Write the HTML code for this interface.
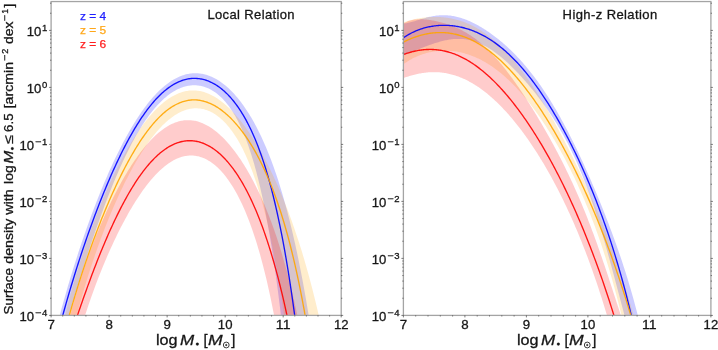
<!DOCTYPE html>
<html><head><meta charset="utf-8"><title>chart</title><style>html,body{margin:0;padding:0;background:#fff}body{width:718px;height:350px;overflow:hidden;font-family:"Liberation Sans",sans-serif}</style></head><body>
<svg width="718" height="350" viewBox="0 0 718 350" style="display:block;font-family:'Liberation Sans',sans-serif;will-change:transform;opacity:0.999">
<rect width="718" height="350" fill="#fff"/>
<defs><clipPath id="cl"><rect x="51.10" y="1.55" width="290.10" height="313.85"/></clipPath><clipPath id="cr"><rect x="403.40" y="1.55" width="307.50" height="313.85"/></clipPath></defs>
<g clip-path="url(#cl)">
<path d="M49.10 357.31 L50.10 353.12 L51.10 348.98 L52.10 344.90 L53.10 340.86 L54.10 336.87 L55.10 332.93 L56.10 329.03 L57.10 325.19 L58.10 321.38 L59.10 317.62 L60.10 313.90 L61.10 310.22 L62.10 306.59 L63.10 302.99 L64.10 299.43 L65.10 295.91 L66.10 292.43 L67.10 288.99 L68.10 285.58 L69.10 282.21 L70.10 278.87 L71.10 275.57 L72.10 272.30 L73.10 269.06 L74.10 265.86 L75.10 262.69 L76.10 259.55 L77.10 256.44 L78.10 253.36 L79.10 250.31 L80.10 247.30 L81.10 244.31 L82.10 241.35 L83.10 238.42 L84.10 235.52 L85.10 232.65 L86.10 229.80 L87.10 226.99 L88.10 224.20 L89.10 221.43 L90.10 218.70 L91.10 215.99 L92.10 213.31 L93.10 210.65 L94.10 208.02 L95.10 205.41 L96.10 202.83 L97.10 200.28 L98.10 197.75 L99.10 195.25 L100.10 192.77 L101.10 190.32 L102.10 187.89 L103.10 185.49 L104.10 183.11 L105.10 180.76 L106.10 178.43 L107.10 176.13 L108.10 173.85 L109.10 171.60 L110.10 169.37 L111.10 167.16 L112.10 164.98 L113.10 162.83 L114.10 160.69 L115.10 158.59 L116.10 156.51 L117.10 154.45 L118.10 152.42 L119.10 150.41 L120.10 148.42 L121.10 146.46 L122.10 144.53 L123.10 142.62 L124.10 140.74 L125.10 138.88 L126.10 137.04 L127.10 135.23 L128.10 133.45 L129.10 131.69 L130.10 129.95 L131.10 128.24 L132.10 126.56 L133.10 124.90 L134.10 123.26 L135.10 121.65 L136.10 120.07 L137.10 118.51 L138.10 116.98 L139.10 115.47 L140.10 113.99 L141.10 112.54 L142.10 111.11 L143.10 109.70 L144.10 108.33 L145.10 106.97 L146.10 105.65 L147.10 104.35 L148.10 103.07 L149.10 101.83 L150.10 100.61 L151.10 99.41 L152.10 98.24 L153.10 97.10 L154.10 95.98 L155.10 94.89 L156.10 93.83 L157.10 92.79 L158.10 91.78 L159.10 90.80 L160.10 89.84 L161.10 88.91 L162.10 88.00 L163.10 87.13 L164.10 86.28 L165.10 85.45 L166.10 84.65 L167.10 83.88 L168.10 83.14 L169.10 82.42 L170.10 81.73 L171.10 81.07 L172.10 80.43 L173.10 79.82 L174.10 79.24 L175.10 78.68 L176.10 78.15 L177.10 77.65 L178.10 77.17 L179.10 76.72 L180.10 76.30 L181.10 75.91 L182.10 75.54 L183.10 75.20 L184.10 74.88 L185.10 74.60 L186.10 74.33 L187.10 74.10 L188.10 73.89 L189.10 73.71 L190.10 73.56 L191.10 73.43 L192.10 73.33 L193.10 73.26 L194.10 73.21 L195.10 73.19 L196.10 73.20 L197.10 73.24 L198.10 73.30 L199.10 73.39 L200.10 73.50 L201.10 73.64 L202.10 73.81 L203.10 74.01 L204.10 74.23 L205.10 74.48 L206.10 74.76 L207.10 75.06 L208.10 75.40 L209.10 75.75 L210.10 76.14 L211.10 76.55 L212.10 77.00 L213.10 77.46 L214.10 77.96 L215.10 78.48 L216.10 79.04 L217.10 79.61 L218.10 80.22 L219.10 80.86 L220.10 81.52 L221.10 82.21 L222.10 82.93 L223.10 83.68 L224.10 84.46 L225.10 85.27 L226.10 86.10 L227.10 86.97 L228.10 87.87 L229.10 88.79 L230.10 89.75 L231.10 90.73 L232.10 91.75 L233.10 92.80 L234.10 93.87 L235.10 94.98 L236.10 96.13 L237.10 97.30 L238.10 98.51 L239.10 99.75 L240.10 101.02 L241.10 102.32 L242.10 103.67 L243.10 105.04 L244.10 106.45 L245.10 107.90 L246.10 109.38 L247.10 110.90 L248.10 112.45 L249.10 114.04 L250.10 115.67 L251.10 117.34 L252.10 119.05 L253.10 120.80 L254.10 122.59 L255.10 124.43 L256.10 126.30 L257.10 128.22 L258.10 130.18 L259.10 132.19 L260.10 134.24 L261.10 136.34 L262.10 138.48 L263.10 140.68 L264.10 142.92 L265.10 145.21 L266.10 147.56 L267.10 149.96 L268.10 152.41 L269.10 154.91 L270.10 157.47 L271.10 160.09 L272.10 162.77 L273.10 165.50 L274.10 168.30 L275.10 171.16 L276.10 174.08 L277.10 177.07 L278.10 180.12 L279.10 183.25 L280.10 186.44 L281.10 189.70 L282.10 193.04 L283.10 196.45 L284.10 199.93 L285.10 203.50 L286.10 207.14 L287.10 210.87 L288.10 214.68 L289.10 218.58 L290.10 222.56 L291.10 226.63 L292.10 230.80 L293.10 235.06 L294.10 239.42 L295.10 243.87 L296.10 248.43 L297.10 253.09 L298.10 257.85 L299.10 262.73 L300.10 267.71 L301.10 272.81 L302.10 278.02 L303.10 283.36 L304.10 288.81 L305.10 294.39 L306.10 300.10 L307.10 305.94 L308.10 311.91 L309.10 318.02 L310.10 324.27 L311.10 330.67 L312.10 337.21 L313.10 343.90 L314.10 350.74 L315.10 357.75 L316.10 364.91 L316.10 395.40 L315.10 395.40 L314.10 395.40 L313.10 395.40 L312.10 395.40 L311.10 395.40 L310.10 395.40 L309.10 395.40 L308.10 395.40 L307.10 395.40 L306.10 395.40 L305.10 395.40 L304.10 395.40 L303.10 395.40 L302.10 395.40 L301.10 395.40 L300.10 395.40 L299.10 395.40 L298.10 395.40 L297.10 395.40 L296.10 395.40 L295.10 395.40 L294.10 395.40 L293.10 395.40 L292.10 395.40 L291.10 395.40 L290.10 395.40 L289.10 395.40 L288.10 395.40 L287.10 395.40 L286.10 363.04 L285.10 353.24 L284.10 343.74 L283.10 334.53 L282.10 325.60 L281.10 316.95 L280.10 308.57 L279.10 300.45 L278.10 292.58 L277.10 284.96 L276.10 277.58 L275.10 270.43 L274.10 263.51 L273.10 256.81 L272.10 250.32 L271.10 244.04 L270.10 237.96 L269.10 232.08 L268.10 226.39 L267.10 220.88 L266.10 215.55 L265.10 210.40 L264.10 205.42 L263.10 200.60 L262.10 195.94 L261.10 191.44 L260.10 187.08 L259.10 182.88 L258.10 178.81 L257.10 174.88 L256.10 171.08 L255.10 167.41 L254.10 163.87 L253.10 160.45 L252.10 157.15 L251.10 153.96 L250.10 150.88 L249.10 147.90 L248.10 145.03 L247.10 142.27 L246.10 139.60 L245.10 137.02 L244.10 134.54 L243.10 132.14 L242.10 129.83 L241.10 127.61 L240.10 125.46 L239.10 123.40 L238.10 121.41 L237.10 119.49 L236.10 117.65 L235.10 115.87 L234.10 114.17 L233.10 112.53 L232.10 110.95 L231.10 109.43 L230.10 107.98 L229.10 106.58 L228.10 105.24 L227.10 103.95 L226.10 102.72 L225.10 101.54 L224.10 100.41 L223.10 99.33 L222.10 98.30 L221.10 97.32 L220.10 96.38 L219.10 95.49 L218.10 94.63 L217.10 93.83 L216.10 93.06 L215.10 92.33 L214.10 91.65 L213.10 91.00 L212.10 90.39 L211.10 89.82 L210.10 89.29 L209.10 88.79 L208.10 88.33 L207.10 87.90 L206.10 87.50 L205.10 87.14 L204.10 86.82 L203.10 86.52 L202.10 86.26 L201.10 86.03 L200.10 85.84 L199.10 85.67 L198.10 85.54 L197.10 85.43 L196.10 85.36 L195.10 85.32 L194.10 85.30 L193.10 85.32 L192.10 85.37 L191.10 85.44 L190.10 85.55 L189.10 85.68 L188.10 85.85 L187.10 86.04 L186.10 86.27 L185.10 86.52 L184.10 86.80 L183.10 87.11 L182.10 87.45 L181.10 87.82 L180.10 88.22 L179.10 88.65 L178.10 89.10 L177.10 89.59 L176.10 90.11 L175.10 90.65 L174.10 91.22 L173.10 91.83 L172.10 92.46 L171.10 93.12 L170.10 93.82 L169.10 94.54 L168.10 95.29 L167.10 96.07 L166.10 96.88 L165.10 97.73 L164.10 98.60 L163.10 99.50 L162.10 100.43 L161.10 101.40 L160.10 102.39 L159.10 103.42 L158.10 104.47 L157.10 105.56 L156.10 106.68 L155.10 107.83 L154.10 109.01 L153.10 110.22 L152.10 111.46 L151.10 112.73 L150.10 114.03 L149.10 115.37 L148.10 116.74 L147.10 118.13 L146.10 119.56 L145.10 121.02 L144.10 122.52 L143.10 124.04 L142.10 125.59 L141.10 127.18 L140.10 128.80 L139.10 130.45 L138.10 132.13 L137.10 133.84 L136.10 135.58 L135.10 137.35 L134.10 139.16 L133.10 140.99 L132.10 142.86 L131.10 144.76 L130.10 146.68 L129.10 148.64 L128.10 150.63 L127.10 152.65 L126.10 154.70 L125.10 156.77 L124.10 158.88 L123.10 161.02 L122.10 163.19 L121.10 165.38 L120.10 167.61 L119.10 169.86 L118.10 172.15 L117.10 174.46 L116.10 176.80 L115.10 179.17 L114.10 181.56 L113.10 183.99 L112.10 186.44 L111.10 188.92 L110.10 191.42 L109.10 193.95 L108.10 196.51 L107.10 199.09 L106.10 201.70 L105.10 204.34 L104.10 207.00 L103.10 209.69 L102.10 212.40 L101.10 215.13 L100.10 217.90 L99.10 220.68 L98.10 223.49 L97.10 226.32 L96.10 229.17 L95.10 232.05 L94.10 234.95 L93.10 237.87 L92.10 240.82 L91.10 243.79 L90.10 246.78 L89.10 249.79 L88.10 252.82 L87.10 255.87 L86.10 258.95 L85.10 262.04 L84.10 265.16 L83.10 268.29 L82.10 271.45 L81.10 274.62 L80.10 277.82 L79.10 281.03 L78.10 284.27 L77.10 287.53 L76.10 290.80 L75.10 294.09 L74.10 297.41 L73.10 300.74 L72.10 304.09 L71.10 307.46 L70.10 310.85 L69.10 314.27 L68.10 317.70 L67.10 321.15 L66.10 324.62 L65.10 328.11 L64.10 331.62 L63.10 335.15 L62.10 338.70 L61.10 342.27 L60.10 345.87 L59.10 349.48 L58.10 353.12 L57.10 356.78 L56.10 360.46 L55.10 364.17 L54.10 395.40 L53.10 395.40 L52.10 395.40 L51.10 395.40 L50.10 395.40 L49.10 395.40 Z" fill="#0000ff" fill-opacity="0.2"/>
<path d="M54.10 362.38 L55.10 357.72 L56.10 353.13 L57.10 348.62 L58.10 344.19 L59.10 339.83 L60.10 335.53 L61.10 331.31 L62.10 327.15 L63.10 323.06 L64.10 319.03 L65.10 315.07 L66.10 311.16 L67.10 307.31 L68.10 303.52 L69.10 299.79 L70.10 296.11 L71.10 292.49 L72.10 288.91 L73.10 285.39 L74.10 281.92 L75.10 278.50 L76.10 275.12 L77.10 271.79 L78.10 268.51 L79.10 265.27 L80.10 262.07 L81.10 258.92 L82.10 255.81 L83.10 252.74 L84.10 249.71 L85.10 246.72 L86.10 243.76 L87.10 240.85 L88.10 237.97 L89.10 235.13 L90.10 232.32 L91.10 229.55 L92.10 226.81 L93.10 224.10 L94.10 221.43 L95.10 218.79 L96.10 216.19 L97.10 213.61 L98.10 211.07 L99.10 208.56 L100.10 206.07 L101.10 203.62 L102.10 201.20 L103.10 198.80 L104.10 196.44 L105.10 194.10 L106.10 191.79 L107.10 189.51 L108.10 187.25 L109.10 185.03 L110.10 182.83 L111.10 180.65 L112.10 178.51 L113.10 176.39 L114.10 174.29 L115.10 172.23 L116.10 170.18 L117.10 168.17 L118.10 166.18 L119.10 164.21 L120.10 162.27 L121.10 160.36 L122.10 158.47 L123.10 156.61 L124.10 154.77 L125.10 152.96 L126.10 151.17 L127.10 149.41 L128.10 147.67 L129.10 145.96 L130.10 144.27 L131.10 142.61 L132.10 140.97 L133.10 139.36 L134.10 137.77 L135.10 136.20 L136.10 134.67 L137.10 133.15 L138.10 131.67 L139.10 130.20 L140.10 128.77 L141.10 127.36 L142.10 125.97 L143.10 124.61 L144.10 123.27 L145.10 121.96 L146.10 120.68 L147.10 119.42 L148.10 118.19 L149.10 116.98 L150.10 115.80 L151.10 114.64 L152.10 113.51 L153.10 112.41 L154.10 111.33 L155.10 110.28 L156.10 109.25 L157.10 108.26 L158.10 107.28 L159.10 106.34 L160.10 105.42 L161.10 104.53 L162.10 103.66 L163.10 102.82 L164.10 102.01 L165.10 101.23 L166.10 100.47 L167.10 99.74 L168.10 99.04 L169.10 98.36 L170.10 97.71 L171.10 97.09 L172.10 96.50 L173.10 95.93 L174.10 95.39 L175.10 94.88 L176.10 94.39 L177.10 93.94 L178.10 93.51 L179.10 93.11 L180.10 92.73 L181.10 92.39 L182.10 92.07 L183.10 91.78 L184.10 91.52 L185.10 91.28 L186.10 91.07 L187.10 90.89 L188.10 90.74 L189.10 90.62 L190.10 90.52 L191.10 90.46 L192.10 90.42 L193.10 90.40 L194.10 90.42 L195.10 90.46 L196.10 90.53 L197.10 90.63 L198.10 90.76 L199.10 90.91 L200.10 91.09 L201.10 91.30 L202.10 91.54 L203.10 91.80 L204.10 92.09 L205.10 92.41 L206.10 92.76 L207.10 93.13 L208.10 93.53 L209.10 93.96 L210.10 94.41 L211.10 94.89 L212.10 95.40 L213.10 95.94 L214.10 96.50 L215.10 97.09 L216.10 97.70 L217.10 98.34 L218.10 99.01 L219.10 99.71 L220.10 100.43 L221.10 101.18 L222.10 101.95 L223.10 102.75 L224.10 103.58 L225.10 104.43 L226.10 105.31 L227.10 106.21 L228.10 107.14 L229.10 108.10 L230.10 109.08 L231.10 110.09 L232.10 111.12 L233.10 112.18 L234.10 113.26 L235.10 114.37 L236.10 115.51 L237.10 116.67 L238.10 117.85 L239.10 119.06 L240.10 120.30 L241.10 121.56 L242.10 122.85 L243.10 124.16 L244.10 125.50 L245.10 126.86 L246.10 128.25 L247.10 129.66 L248.10 131.10 L249.10 132.56 L250.10 134.05 L251.10 135.56 L252.10 137.10 L253.10 138.67 L254.10 140.26 L255.10 141.88 L256.10 143.52 L257.10 145.19 L258.10 146.89 L259.10 148.61 L260.10 150.36 L261.10 152.13 L262.10 153.93 L263.10 155.76 L264.10 157.62 L265.10 159.50 L266.10 161.41 L267.10 163.35 L268.10 165.32 L269.10 167.31 L270.10 169.34 L271.10 171.39 L272.10 173.47 L273.10 175.59 L274.10 177.73 L275.10 179.90 L276.10 182.11 L277.10 184.35 L278.10 186.62 L279.10 188.92 L280.10 191.25 L281.10 193.62 L282.10 196.02 L283.10 198.46 L284.10 200.93 L285.10 203.44 L286.10 205.98 L287.10 208.57 L288.10 211.19 L289.10 213.85 L290.10 216.55 L291.10 219.29 L292.10 222.07 L293.10 224.89 L294.10 227.76 L295.10 230.67 L296.10 233.63 L297.10 236.63 L298.10 239.68 L299.10 242.77 L300.10 245.92 L301.10 249.12 L302.10 252.37 L303.10 255.67 L304.10 259.03 L305.10 262.44 L306.10 265.91 L307.10 269.43 L308.10 273.02 L309.10 276.67 L310.10 280.38 L311.10 284.15 L312.10 287.99 L313.10 291.90 L314.10 295.88 L315.10 299.93 L316.10 304.05 L317.10 308.24 L318.10 312.52 L319.10 316.87 L320.10 321.30 L321.10 325.81 L322.10 330.41 L323.10 335.10 L324.10 339.87 L325.10 344.74 L326.10 349.70 L327.10 354.76 L328.10 359.91 L329.10 365.17 L329.10 395.40 L328.10 395.40 L327.10 395.40 L326.10 395.40 L325.10 395.40 L324.10 395.40 L323.10 395.40 L322.10 395.40 L321.10 395.40 L320.10 395.40 L319.10 395.40 L318.10 395.40 L317.10 395.40 L316.10 395.40 L315.10 395.40 L314.10 395.40 L313.10 395.40 L312.10 395.40 L311.10 395.40 L310.10 395.40 L309.10 395.40 L308.10 395.40 L307.10 395.40 L306.10 395.40 L305.10 395.40 L304.10 395.40 L303.10 395.40 L302.10 395.40 L301.10 395.40 L300.10 395.40 L299.10 395.40 L298.10 395.40 L297.10 395.40 L296.10 395.40 L295.10 395.40 L294.10 395.40 L293.10 395.40 L292.10 395.40 L291.10 395.40 L290.10 361.78 L289.10 353.53 L288.10 345.52 L287.10 337.74 L286.10 330.18 L285.10 322.84 L284.10 315.71 L283.10 308.79 L282.10 302.07 L281.10 295.55 L280.10 289.21 L279.10 283.06 L278.10 277.09 L277.10 271.29 L276.10 265.67 L275.10 260.20 L274.10 254.90 L273.10 249.76 L272.10 244.76 L271.10 239.91 L270.10 235.21 L269.10 230.64 L268.10 226.21 L267.10 221.91 L266.10 217.74 L265.10 213.69 L264.10 209.76 L263.10 205.95 L262.10 202.25 L261.10 198.66 L260.10 195.18 L259.10 191.80 L258.10 188.53 L257.10 185.35 L256.10 182.27 L255.10 179.29 L254.10 176.39 L253.10 173.58 L252.10 170.86 L251.10 168.22 L250.10 165.66 L249.10 163.18 L248.10 160.77 L247.10 158.45 L246.10 156.19 L245.10 154.01 L244.10 151.89 L243.10 149.84 L242.10 147.86 L241.10 145.94 L240.10 144.08 L239.10 142.28 L238.10 140.55 L237.10 138.87 L236.10 137.24 L235.10 135.68 L234.10 134.16 L233.10 132.70 L232.10 131.29 L231.10 129.93 L230.10 128.63 L229.10 127.36 L228.10 126.15 L227.10 124.98 L226.10 123.86 L225.10 122.79 L224.10 121.75 L223.10 120.76 L222.10 119.82 L221.10 118.91 L220.10 118.05 L219.10 117.22 L218.10 116.44 L217.10 115.69 L216.10 114.99 L215.10 114.32 L214.10 113.69 L213.10 113.09 L212.10 112.54 L211.10 112.01 L210.10 111.53 L209.10 111.08 L208.10 110.66 L207.10 110.28 L206.10 109.94 L205.10 109.63 L204.10 109.35 L203.10 109.10 L202.10 108.89 L201.10 108.71 L200.10 108.57 L199.10 108.46 L198.10 108.38 L197.10 108.33 L196.10 108.31 L195.10 108.33 L194.10 108.37 L193.10 108.45 L192.10 108.56 L191.10 108.70 L190.10 108.87 L189.10 109.08 L188.10 109.31 L187.10 109.57 L186.10 109.87 L185.10 110.19 L184.10 110.55 L183.10 110.93 L182.10 111.35 L181.10 111.80 L180.10 112.27 L179.10 112.78 L178.10 113.31 L177.10 113.88 L176.10 114.47 L175.10 115.10 L174.10 115.75 L173.10 116.44 L172.10 117.15 L171.10 117.89 L170.10 118.66 L169.10 119.46 L168.10 120.29 L167.10 121.15 L166.10 122.04 L165.10 122.95 L164.10 123.90 L163.10 124.87 L162.10 125.87 L161.10 126.90 L160.10 127.96 L159.10 129.04 L158.10 130.16 L157.10 131.30 L156.10 132.47 L155.10 133.67 L154.10 134.89 L153.10 136.15 L152.10 137.43 L151.10 138.74 L150.10 140.07 L149.10 141.43 L148.10 142.82 L147.10 144.24 L146.10 145.68 L145.10 147.16 L144.10 148.65 L143.10 150.18 L142.10 151.73 L141.10 153.31 L140.10 154.91 L139.10 156.54 L138.10 158.19 L137.10 159.88 L136.10 161.59 L135.10 163.32 L134.10 165.08 L133.10 166.87 L132.10 168.68 L131.10 170.52 L130.10 172.38 L129.10 174.27 L128.10 176.19 L127.10 178.13 L126.10 180.10 L125.10 182.09 L124.10 184.11 L123.10 186.16 L122.10 188.23 L121.10 190.33 L120.10 192.45 L119.10 194.60 L118.10 196.78 L117.10 198.98 L116.10 201.21 L115.10 203.47 L114.10 205.75 L113.10 208.07 L112.10 210.40 L111.10 212.77 L110.10 215.17 L109.10 217.59 L108.10 220.05 L107.10 222.53 L106.10 225.04 L105.10 227.58 L104.10 230.16 L103.10 232.76 L102.10 235.40 L101.10 238.06 L100.10 240.76 L99.10 243.50 L98.10 246.27 L97.10 249.07 L96.10 251.91 L95.10 254.78 L94.10 257.70 L93.10 260.65 L92.10 263.64 L91.10 266.67 L90.10 269.74 L89.10 272.85 L88.10 276.00 L87.10 279.21 L86.10 282.45 L85.10 285.74 L84.10 289.09 L83.10 292.48 L82.10 295.92 L81.10 299.41 L80.10 302.96 L79.10 306.57 L78.10 310.23 L77.10 313.95 L76.10 317.74 L75.10 321.58 L74.10 325.50 L73.10 329.48 L72.10 333.52 L71.10 337.65 L70.10 341.84 L69.10 346.11 L68.10 350.46 L67.10 354.89 L66.10 359.41 L65.10 364.01 L64.10 395.40 L63.10 395.40 L62.10 395.40 L61.10 395.40 L60.10 395.40 L59.10 395.40 L58.10 395.40 L57.10 395.40 L56.10 395.40 L55.10 395.40 L54.10 395.40 Z" fill="#ffa500" fill-opacity="0.2"/>
<path d="M59.10 362.07 L60.10 357.39 L61.10 352.81 L62.10 348.32 L63.10 343.92 L64.10 339.62 L65.10 335.40 L66.10 331.26 L67.10 327.21 L68.10 323.23 L69.10 319.33 L70.10 315.50 L71.10 311.75 L72.10 308.06 L73.10 304.44 L74.10 300.89 L75.10 297.40 L76.10 293.97 L77.10 290.60 L78.10 287.29 L79.10 284.03 L80.10 280.83 L81.10 277.68 L82.10 274.58 L83.10 271.53 L84.10 268.53 L85.10 265.58 L86.10 262.67 L87.10 259.81 L88.10 256.98 L89.10 254.20 L90.10 251.47 L91.10 248.77 L92.10 246.10 L93.10 243.48 L94.10 240.90 L95.10 238.34 L96.10 235.83 L97.10 233.35 L98.10 230.90 L99.10 228.49 L100.10 226.10 L101.10 223.75 L102.10 221.43 L103.10 219.14 L104.10 216.88 L105.10 214.65 L106.10 212.44 L107.10 210.27 L108.10 208.12 L109.10 206.00 L110.10 203.91 L111.10 201.84 L112.10 199.80 L113.10 197.79 L114.10 195.80 L115.10 193.84 L116.10 191.91 L117.10 190.00 L118.10 188.11 L119.10 186.25 L120.10 184.41 L121.10 182.60 L122.10 180.82 L123.10 179.05 L124.10 177.32 L125.10 175.60 L126.10 173.92 L127.10 172.25 L128.10 170.61 L129.10 169.00 L130.10 167.41 L131.10 165.84 L132.10 164.30 L133.10 162.78 L134.10 161.29 L135.10 159.82 L136.10 158.38 L137.10 156.96 L138.10 155.56 L139.10 154.20 L140.10 152.85 L141.10 151.53 L142.10 150.24 L143.10 148.97 L144.10 147.73 L145.10 146.51 L146.10 145.32 L147.10 144.16 L148.10 143.02 L149.10 141.91 L150.10 140.82 L151.10 139.76 L152.10 138.73 L153.10 137.72 L154.10 136.74 L155.10 135.79 L156.10 134.87 L157.10 133.97 L158.10 133.10 L159.10 132.25 L160.10 131.44 L161.10 130.65 L162.10 129.89 L163.10 129.16 L164.10 128.45 L165.10 127.77 L166.10 127.13 L167.10 126.51 L168.10 125.91 L169.10 125.35 L170.10 124.82 L171.10 124.31 L172.10 123.83 L173.10 123.39 L174.10 122.97 L175.10 122.57 L176.10 122.21 L177.10 121.88 L178.10 121.58 L179.10 121.30 L180.10 121.06 L181.10 120.84 L182.10 120.65 L183.10 120.50 L184.10 120.37 L185.10 120.27 L186.10 120.20 L187.10 120.16 L188.10 120.14 L189.10 120.16 L190.10 120.21 L191.10 120.28 L192.10 120.39 L193.10 120.52 L194.10 120.68 L195.10 120.87 L196.10 121.10 L197.10 121.34 L198.10 121.62 L199.10 121.93 L200.10 122.27 L201.10 122.63 L202.10 123.03 L203.10 123.45 L204.10 123.90 L205.10 124.38 L206.10 124.89 L207.10 125.42 L208.10 125.99 L209.10 126.58 L210.10 127.20 L211.10 127.85 L212.10 128.53 L213.10 129.23 L214.10 129.96 L215.10 130.73 L216.10 131.52 L217.10 132.33 L218.10 133.18 L219.10 134.05 L220.10 134.95 L221.10 135.88 L222.10 136.84 L223.10 137.82 L224.10 138.83 L225.10 139.87 L226.10 140.94 L227.10 142.04 L228.10 143.16 L229.10 144.31 L230.10 145.49 L231.10 146.70 L232.10 147.94 L233.10 149.20 L234.10 150.49 L235.10 151.82 L236.10 153.17 L237.10 154.55 L238.10 155.95 L239.10 157.39 L240.10 158.86 L241.10 160.36 L242.10 161.89 L243.10 163.44 L244.10 165.03 L245.10 166.65 L246.10 168.31 L247.10 169.99 L248.10 171.71 L249.10 173.45 L250.10 175.24 L251.10 177.05 L252.10 178.90 L253.10 180.79 L254.10 182.71 L255.10 184.66 L256.10 186.66 L257.10 188.69 L258.10 190.76 L259.10 192.86 L260.10 195.01 L261.10 197.20 L262.10 199.43 L263.10 201.70 L264.10 204.01 L265.10 206.37 L266.10 208.78 L267.10 211.23 L268.10 213.73 L269.10 216.28 L270.10 218.88 L271.10 221.53 L272.10 224.23 L273.10 226.99 L274.10 229.80 L275.10 232.67 L276.10 235.60 L277.10 238.59 L278.10 241.65 L279.10 244.76 L280.10 247.95 L281.10 251.20 L282.10 254.52 L283.10 257.91 L284.10 261.38 L285.10 264.92 L286.10 268.54 L287.10 272.24 L288.10 276.02 L289.10 279.89 L290.10 283.85 L291.10 287.90 L292.10 292.04 L293.10 296.28 L294.10 300.62 L295.10 305.06 L296.10 309.60 L297.10 314.25 L298.10 319.01 L299.10 323.89 L300.10 328.89 L301.10 334.01 L302.10 339.25 L303.10 344.62 L304.10 350.12 L305.10 355.76 L306.10 361.55 L306.10 395.40 L305.10 395.40 L304.10 395.40 L303.10 395.40 L302.10 395.40 L301.10 395.40 L300.10 395.40 L299.10 395.40 L298.10 395.40 L297.10 395.40 L296.10 395.40 L295.10 395.40 L294.10 395.40 L293.10 395.40 L292.10 395.40 L291.10 395.40 L290.10 395.40 L289.10 395.40 L288.10 395.40 L287.10 395.40 L286.10 395.40 L285.10 395.40 L284.10 395.40 L283.10 395.40 L282.10 362.07 L281.10 355.68 L280.10 349.47 L279.10 343.42 L278.10 337.54 L277.10 331.81 L276.10 326.23 L275.10 320.80 L274.10 315.52 L273.10 310.38 L272.10 305.38 L271.10 300.51 L270.10 295.77 L269.10 291.16 L268.10 286.68 L267.10 282.31 L266.10 278.06 L265.10 273.92 L264.10 269.90 L263.10 265.98 L262.10 262.17 L261.10 258.46 L260.10 254.85 L259.10 251.34 L258.10 247.92 L257.10 244.60 L256.10 241.37 L255.10 238.22 L254.10 235.16 L253.10 232.18 L252.10 229.28 L251.10 226.47 L250.10 223.73 L249.10 221.06 L248.10 218.47 L247.10 215.95 L246.10 213.50 L245.10 211.12 L244.10 208.81 L243.10 206.56 L242.10 204.37 L241.10 202.25 L240.10 200.19 L239.10 198.19 L238.10 196.24 L237.10 194.36 L236.10 192.53 L235.10 190.75 L234.10 189.03 L233.10 187.36 L232.10 185.74 L231.10 184.18 L230.10 182.66 L229.10 181.19 L228.10 179.77 L227.10 178.40 L226.10 177.07 L225.10 175.79 L224.10 174.56 L223.10 173.36 L222.10 172.21 L221.10 171.11 L220.10 170.04 L219.10 169.02 L218.10 168.04 L217.10 167.10 L216.10 166.20 L215.10 165.34 L214.10 164.52 L213.10 163.73 L212.10 162.99 L211.10 162.28 L210.10 161.61 L209.10 160.98 L208.10 160.38 L207.10 159.82 L206.10 159.29 L205.10 158.80 L204.10 158.35 L203.10 157.93 L202.10 157.55 L201.10 157.20 L200.10 156.88 L199.10 156.60 L198.10 156.35 L197.10 156.14 L196.10 155.96 L195.10 155.81 L194.10 155.69 L193.10 155.61 L192.10 155.56 L191.10 155.54 L190.10 155.56 L189.10 155.61 L188.10 155.69 L187.10 155.80 L186.10 155.94 L185.10 156.11 L184.10 156.32 L183.10 156.55 L182.10 156.82 L181.10 157.12 L180.10 157.45 L179.10 157.81 L178.10 158.20 L177.10 158.62 L176.10 159.07 L175.10 159.55 L174.10 160.06 L173.10 160.61 L172.10 161.18 L171.10 161.78 L170.10 162.41 L169.10 163.07 L168.10 163.76 L167.10 164.47 L166.10 165.22 L165.10 166.00 L164.10 166.80 L163.10 167.64 L162.10 168.50 L161.10 169.39 L160.10 170.31 L159.10 171.25 L158.10 172.23 L157.10 173.23 L156.10 174.26 L155.10 175.32 L154.10 176.40 L153.10 177.52 L152.10 178.66 L151.10 179.82 L150.10 181.02 L149.10 182.24 L148.10 183.48 L147.10 184.76 L146.10 186.06 L145.10 187.38 L144.10 188.74 L143.10 190.12 L142.10 191.52 L141.10 192.95 L140.10 194.41 L139.10 195.89 L138.10 197.40 L137.10 198.93 L136.10 200.49 L135.10 202.07 L134.10 203.68 L133.10 205.31 L132.10 206.97 L131.10 208.66 L130.10 210.36 L129.10 212.10 L128.10 213.86 L127.10 215.64 L126.10 217.45 L125.10 219.28 L124.10 221.14 L123.10 223.02 L122.10 224.93 L121.10 226.86 L120.10 228.82 L119.10 230.80 L118.10 232.81 L117.10 234.84 L116.10 236.90 L115.10 238.99 L114.10 241.10 L113.10 243.23 L112.10 245.40 L111.10 247.58 L110.10 249.80 L109.10 252.04 L108.10 254.31 L107.10 256.61 L106.10 258.94 L105.10 261.29 L104.10 263.68 L103.10 266.09 L102.10 268.53 L101.10 271.01 L100.10 273.51 L99.10 276.05 L98.10 278.61 L97.10 281.21 L96.10 283.85 L95.10 286.51 L94.10 289.22 L93.10 291.96 L92.10 294.73 L91.10 297.54 L90.10 300.40 L89.10 303.29 L88.10 306.22 L87.10 309.19 L86.10 312.20 L85.10 315.26 L84.10 318.37 L83.10 321.52 L82.10 324.72 L81.10 327.96 L80.10 331.26 L79.10 334.61 L78.10 338.02 L77.10 341.47 L76.10 344.99 L75.10 348.56 L74.10 352.20 L73.10 355.90 L72.10 359.66 L71.10 363.49 L70.10 395.40 L69.10 395.40 L68.10 395.40 L67.10 395.40 L66.10 395.40 L65.10 395.40 L64.10 395.40 L63.10 395.40 L62.10 395.40 L61.10 395.40 L60.10 395.40 L59.10 395.40 Z" fill="#ff0000" fill-opacity="0.2"/>
<path d="M51.10 361.24 L52.10 357.03 L53.10 352.87 L54.10 348.78 L55.10 344.74 L56.10 340.75 L57.10 336.81 L58.10 332.92 L59.10 329.08 L60.10 325.28 L61.10 321.53 L62.10 317.83 L63.10 314.17 L64.10 310.55 L65.10 306.97 L66.10 303.43 L67.10 299.93 L68.10 296.47 L69.10 293.05 L70.10 289.66 L71.10 286.30 L72.10 282.99 L73.10 279.70 L74.10 276.45 L75.10 273.23 L76.10 270.04 L77.10 266.88 L78.10 263.75 L79.10 260.65 L80.10 257.59 L81.10 254.55 L82.10 251.54 L83.10 248.55 L84.10 245.60 L85.10 242.67 L86.10 239.77 L87.10 236.89 L88.10 234.04 L89.10 231.22 L90.10 228.42 L91.10 225.65 L92.10 222.90 L93.10 220.18 L94.10 217.48 L95.10 214.81 L96.10 212.16 L97.10 209.54 L98.10 206.94 L99.10 204.36 L100.10 201.81 L101.10 199.28 L102.10 196.78 L103.10 194.30 L104.10 191.85 L105.10 189.42 L106.10 187.01 L107.10 184.63 L108.10 182.27 L109.10 179.93 L110.10 177.62 L111.10 175.34 L112.10 173.08 L113.10 170.84 L114.10 168.62 L115.10 166.44 L116.10 164.27 L117.10 162.13 L118.10 160.02 L119.10 157.93 L120.10 155.86 L121.10 153.82 L122.10 151.81 L123.10 149.82 L124.10 147.86 L125.10 145.92 L126.10 144.01 L127.10 142.12 L128.10 140.26 L129.10 138.42 L130.10 136.61 L131.10 134.83 L132.10 133.08 L133.10 131.35 L134.10 129.64 L135.10 127.97 L136.10 126.32 L137.10 124.69 L138.10 123.10 L139.10 121.53 L140.10 119.99 L141.10 118.47 L142.10 116.98 L143.10 115.52 L144.10 114.09 L145.10 112.69 L146.10 111.31 L147.10 109.96 L148.10 108.64 L149.10 107.35 L150.10 106.08 L151.10 104.84 L152.10 103.63 L153.10 102.45 L154.10 101.30 L155.10 100.17 L156.10 99.08 L157.10 98.01 L158.10 96.97 L159.10 95.96 L160.10 94.97 L161.10 94.02 L162.10 93.09 L163.10 92.20 L164.10 91.33 L165.10 90.48 L166.10 89.67 L167.10 88.89 L168.10 88.13 L169.10 87.40 L170.10 86.70 L171.10 86.03 L172.10 85.39 L173.10 84.77 L174.10 84.19 L175.10 83.63 L176.10 83.10 L177.10 82.60 L178.10 82.13 L179.10 81.68 L180.10 81.26 L181.10 80.88 L182.10 80.51 L183.10 80.18 L184.10 79.88 L185.10 79.60 L186.10 79.35 L187.10 79.13 L188.10 78.94 L189.10 78.77 L190.10 78.64 L191.10 78.53 L192.10 78.45 L193.10 78.39 L194.10 78.37 L195.10 78.37 L196.10 78.40 L197.10 78.46 L198.10 78.55 L199.10 78.66 L200.10 78.80 L201.10 78.98 L202.10 79.18 L203.10 79.40 L204.10 79.66 L205.10 79.95 L206.10 80.26 L207.10 80.60 L208.10 80.97 L209.10 81.38 L210.10 81.81 L211.10 82.27 L212.10 82.76 L213.10 83.28 L214.10 83.83 L215.10 84.41 L216.10 85.02 L217.10 85.66 L218.10 86.33 L219.10 87.04 L220.10 87.78 L221.10 88.55 L222.10 89.35 L223.10 90.19 L224.10 91.06 L225.10 91.97 L226.10 92.91 L227.10 93.89 L228.10 94.90 L229.10 95.95 L230.10 97.04 L231.10 98.16 L232.10 99.32 L233.10 100.53 L234.10 101.77 L235.10 103.06 L236.10 104.39 L237.10 105.76 L238.10 107.17 L239.10 108.63 L240.10 110.14 L241.10 111.69 L242.10 113.29 L243.10 114.94 L244.10 116.64 L245.10 118.40 L246.10 120.20 L247.10 122.06 L248.10 123.98 L249.10 125.96 L250.10 127.99 L251.10 130.08 L252.10 132.24 L253.10 134.46 L254.10 136.75 L255.10 139.10 L256.10 141.52 L257.10 144.02 L258.10 146.59 L259.10 149.23 L260.10 151.95 L261.10 154.75 L262.10 157.64 L263.10 160.60 L264.10 163.66 L265.10 166.80 L266.10 170.04 L267.10 173.37 L268.10 176.79 L269.10 180.32 L270.10 183.95 L271.10 187.69 L272.10 191.53 L273.10 195.49 L274.10 199.56 L275.10 203.75 L276.10 208.06 L277.10 212.50 L278.10 217.07 L279.10 221.77 L280.10 226.61 L281.10 231.59 L282.10 236.71 L283.10 241.98 L284.10 247.40 L285.10 252.98 L286.10 258.73 L287.10 264.64 L288.10 270.71 L289.10 276.97 L290.10 283.40 L291.10 290.02 L292.10 296.83 L293.10 303.84 L294.10 311.04 L295.10 318.45 L296.10 326.08 L297.10 333.92 L298.10 341.98 L299.10 350.28 L300.10 358.81" fill="none" stroke="#0000ff" stroke-width="1.35" stroke-opacity="0.9"/>
<path d="M57.10 362.60 L58.10 358.40 L59.10 354.27 L60.10 350.20 L61.10 346.19 L62.10 342.23 L63.10 338.33 L64.10 334.49 L65.10 330.70 L66.10 326.96 L67.10 323.26 L68.10 319.62 L69.10 316.03 L70.10 312.48 L71.10 308.97 L72.10 305.51 L73.10 302.09 L74.10 298.71 L75.10 295.38 L76.10 292.08 L77.10 288.82 L78.10 285.60 L79.10 282.42 L80.10 279.27 L81.10 276.16 L82.10 273.08 L83.10 270.03 L84.10 267.02 L85.10 264.04 L86.10 261.09 L87.10 258.18 L88.10 255.29 L89.10 252.44 L90.10 249.61 L91.10 246.81 L92.10 244.05 L93.10 241.31 L94.10 238.60 L95.10 235.91 L96.10 233.26 L97.10 230.63 L98.10 228.02 L99.10 225.45 L100.10 222.90 L101.10 220.37 L102.10 217.87 L103.10 215.40 L104.10 212.95 L105.10 210.53 L106.10 208.13 L107.10 205.76 L108.10 203.42 L109.10 201.09 L110.10 198.80 L111.10 196.52 L112.10 194.27 L113.10 192.05 L114.10 189.85 L115.10 187.68 L116.10 185.53 L117.10 183.40 L118.10 181.30 L119.10 179.23 L120.10 177.18 L121.10 175.15 L122.10 173.15 L123.10 171.17 L124.10 169.22 L125.10 167.29 L126.10 165.39 L127.10 163.51 L128.10 161.66 L129.10 159.84 L130.10 158.04 L131.10 156.26 L132.10 154.51 L133.10 152.79 L134.10 151.09 L135.10 149.42 L136.10 147.77 L137.10 146.16 L138.10 144.56 L139.10 143.00 L140.10 141.46 L141.10 139.94 L142.10 138.46 L143.10 137.00 L144.10 135.56 L145.10 134.16 L146.10 132.78 L147.10 131.43 L148.10 130.10 L149.10 128.81 L150.10 127.54 L151.10 126.30 L152.10 125.09 L153.10 123.90 L154.10 122.74 L155.10 121.62 L156.10 120.51 L157.10 119.44 L158.10 118.40 L159.10 117.38 L160.10 116.39 L161.10 115.43 L162.10 114.50 L163.10 113.60 L164.10 112.73 L165.10 111.88 L166.10 111.07 L167.10 110.28 L168.10 109.52 L169.10 108.79 L170.10 108.09 L171.10 107.42 L172.10 106.78 L173.10 106.16 L174.10 105.58 L175.10 105.02 L176.10 104.49 L177.10 104.00 L178.10 103.53 L179.10 103.08 L180.10 102.67 L181.10 102.29 L182.10 101.93 L183.10 101.61 L184.10 101.31 L185.10 101.04 L186.10 100.80 L187.10 100.59 L188.10 100.40 L189.10 100.25 L190.10 100.12 L191.10 100.02 L192.10 99.95 L193.10 99.91 L194.10 99.90 L195.10 99.91 L196.10 99.95 L197.10 100.02 L198.10 100.12 L199.10 100.25 L200.10 100.40 L201.10 100.58 L202.10 100.79 L203.10 101.02 L204.10 101.28 L205.10 101.57 L206.10 101.89 L207.10 102.24 L208.10 102.61 L209.10 103.01 L210.10 103.43 L211.10 103.88 L212.10 104.36 L213.10 104.87 L214.10 105.40 L215.10 105.96 L216.10 106.55 L217.10 107.16 L218.10 107.80 L219.10 108.47 L220.10 109.16 L221.10 109.89 L222.10 110.63 L223.10 111.41 L224.10 112.21 L225.10 113.04 L226.10 113.89 L227.10 114.78 L228.10 115.69 L229.10 116.62 L230.10 117.59 L231.10 118.58 L232.10 119.60 L233.10 120.65 L234.10 121.73 L235.10 122.83 L236.10 123.97 L237.10 125.13 L238.10 126.32 L239.10 127.54 L240.10 128.79 L241.10 130.08 L242.10 131.39 L243.10 132.73 L244.10 134.10 L245.10 135.51 L246.10 136.94 L247.10 138.41 L248.10 139.92 L249.10 141.45 L250.10 143.02 L251.10 144.63 L252.10 146.27 L253.10 147.94 L254.10 149.66 L255.10 151.41 L256.10 153.19 L257.10 155.02 L258.10 156.89 L259.10 158.80 L260.10 160.74 L261.10 162.74 L262.10 164.77 L263.10 166.85 L264.10 168.97 L265.10 171.15 L266.10 173.37 L267.10 175.63 L268.10 177.95 L269.10 180.32 L270.10 182.74 L271.10 185.22 L272.10 187.75 L273.10 190.34 L274.10 192.99 L275.10 195.70 L276.10 198.46 L277.10 201.30 L278.10 204.20 L279.10 207.16 L280.10 210.20 L281.10 213.30 L282.10 216.48 L283.10 219.73 L284.10 223.06 L285.10 226.47 L286.10 229.96 L287.10 233.53 L288.10 237.19 L289.10 240.94 L290.10 244.78 L291.10 248.72 L292.10 252.75 L293.10 256.88 L294.10 261.11 L295.10 265.44 L296.10 269.89 L297.10 274.44 L298.10 279.11 L299.10 283.90 L300.10 288.80 L301.10 293.83 L302.10 298.99 L303.10 304.28 L304.10 309.70 L305.10 315.26 L306.10 320.97 L307.10 326.82 L308.10 332.82 L309.10 338.97 L310.10 345.28 L311.10 351.76 L312.10 358.40 L313.10 365.21" fill="none" stroke="#ffa500" stroke-width="1.35" stroke-opacity="0.9"/>
<path d="M62.10 362.44 L63.10 359.27 L64.10 356.12 L65.10 352.98 L66.10 349.86 L67.10 346.75 L68.10 343.65 L69.10 340.56 L70.10 337.49 L71.10 334.44 L72.10 331.40 L73.10 328.38 L74.10 325.37 L75.10 322.38 L76.10 319.41 L77.10 316.45 L78.10 313.51 L79.10 310.59 L80.10 307.69 L81.10 304.80 L82.10 301.93 L83.10 299.09 L84.10 296.26 L85.10 293.45 L86.10 290.66 L87.10 287.89 L88.10 285.14 L89.10 282.41 L90.10 279.71 L91.10 277.02 L92.10 274.35 L93.10 271.71 L94.10 269.09 L95.10 266.49 L96.10 263.91 L97.10 261.36 L98.10 258.83 L99.10 256.32 L100.10 253.84 L101.10 251.37 L102.10 248.94 L103.10 246.52 L104.10 244.14 L105.10 241.77 L106.10 239.43 L107.10 237.12 L108.10 234.82 L109.10 232.56 L110.10 230.32 L111.10 228.11 L112.10 225.92 L113.10 223.75 L114.10 221.62 L115.10 219.51 L116.10 217.42 L117.10 215.36 L118.10 213.33 L119.10 211.33 L120.10 209.35 L121.10 207.40 L122.10 205.47 L123.10 203.58 L124.10 201.71 L125.10 199.86 L126.10 198.05 L127.10 196.26 L128.10 194.50 L129.10 192.77 L130.10 191.06 L131.10 189.39 L132.10 187.74 L133.10 186.12 L134.10 184.53 L135.10 182.96 L136.10 181.43 L137.10 179.92 L138.10 178.44 L139.10 176.99 L140.10 175.56 L141.10 174.17 L142.10 172.80 L143.10 171.46 L144.10 170.16 L145.10 168.87 L146.10 167.62 L147.10 166.40 L148.10 165.20 L149.10 164.04 L150.10 162.90 L151.10 161.79 L152.10 160.71 L153.10 159.66 L154.10 158.63 L155.10 157.64 L156.10 156.67 L157.10 155.73 L158.10 154.82 L159.10 153.94 L160.10 153.09 L161.10 152.26 L162.10 151.47 L163.10 150.70 L164.10 149.96 L165.10 149.25 L166.10 148.57 L167.10 147.92 L168.10 147.29 L169.10 146.70 L170.10 146.13 L171.10 145.59 L172.10 145.08 L173.10 144.59 L174.10 144.14 L175.10 143.71 L176.10 143.31 L177.10 142.94 L178.10 142.60 L179.10 142.29 L180.10 142.00 L181.10 141.74 L182.10 141.52 L183.10 141.31 L184.10 141.14 L185.10 141.00 L186.10 140.88 L187.10 140.79 L188.10 140.73 L189.10 140.70 L190.10 140.70 L191.10 140.72 L192.10 140.78 L193.10 140.86 L194.10 140.97 L195.10 141.11 L196.10 141.28 L197.10 141.47 L198.10 141.70 L199.10 141.95 L200.10 142.23 L201.10 142.54 L202.10 142.88 L203.10 143.25 L204.10 143.65 L205.10 144.08 L206.10 144.54 L207.10 145.02 L208.10 145.54 L209.10 146.09 L210.10 146.66 L211.10 147.27 L212.10 147.91 L213.10 148.57 L214.10 149.27 L215.10 150.00 L216.10 150.76 L217.10 151.55 L218.10 152.37 L219.10 153.23 L220.10 154.12 L221.10 155.04 L222.10 155.99 L223.10 156.97 L224.10 157.99 L225.10 159.04 L226.10 160.13 L227.10 161.25 L228.10 162.40 L229.10 163.59 L230.10 164.82 L231.10 166.08 L232.10 167.38 L233.10 168.71 L234.10 170.09 L235.10 171.50 L236.10 172.94 L237.10 174.43 L238.10 175.96 L239.10 177.52 L240.10 179.13 L241.10 180.77 L242.10 182.46 L243.10 184.19 L244.10 185.97 L245.10 187.78 L246.10 189.64 L247.10 191.55 L248.10 193.50 L249.10 195.50 L250.10 197.55 L251.10 199.64 L252.10 201.78 L253.10 203.97 L254.10 206.22 L255.10 208.51 L256.10 210.86 L257.10 213.26 L258.10 215.71 L259.10 218.22 L260.10 220.79 L261.10 223.41 L262.10 226.09 L263.10 228.83 L264.10 231.63 L265.10 234.50 L266.10 237.42 L267.10 240.41 L268.10 243.47 L269.10 246.59 L270.10 249.78 L271.10 253.04 L272.10 256.38 L273.10 259.78 L274.10 263.26 L275.10 266.81 L276.10 270.44 L277.10 274.15 L278.10 277.93 L279.10 281.80 L280.10 285.75 L281.10 289.79 L282.10 293.91 L283.10 298.12 L284.10 302.42 L285.10 306.81 L286.10 311.30 L287.10 315.88 L288.10 320.56 L289.10 325.34 L290.10 330.22 L291.10 335.20 L292.10 340.29 L293.10 345.49 L294.10 350.80 L295.10 356.22 L296.10 361.75" fill="none" stroke="#ff0000" stroke-width="1.35" stroke-opacity="0.9"/>
</g>
<g clip-path="url(#cr)">
<path d="M401.40 23.54 L402.40 23.55 L403.40 23.51 L404.40 23.43 L405.40 23.32 L406.40 23.17 L407.40 23.00 L408.40 22.80 L409.40 22.57 L410.40 22.33 L411.40 22.07 L412.40 21.80 L413.40 21.51 L414.40 21.22 L415.40 20.92 L416.40 20.61 L417.40 20.30 L418.40 19.98 L419.40 19.67 L420.40 19.36 L421.40 19.06 L422.40 18.75 L423.40 18.46 L424.40 18.17 L425.40 17.89 L426.40 17.62 L427.40 17.36 L428.40 17.11 L429.40 16.87 L430.40 16.65 L431.40 16.44 L432.40 16.25 L433.40 16.07 L434.40 15.90 L435.40 15.75 L436.40 15.62 L437.40 15.51 L438.40 15.41 L439.40 15.33 L440.40 15.27 L441.40 15.22 L442.40 15.19 L443.40 15.18 L444.40 15.19 L445.40 15.22 L446.40 15.26 L447.40 15.33 L448.40 15.41 L449.40 15.51 L450.40 15.62 L451.40 15.76 L452.40 15.91 L453.40 16.08 L454.40 16.27 L455.40 16.48 L456.40 16.70 L457.40 16.94 L458.40 17.20 L459.40 17.47 L460.40 17.76 L461.40 18.07 L462.40 18.39 L463.40 18.73 L464.40 19.09 L465.40 19.46 L466.40 19.84 L467.40 20.24 L468.40 20.66 L469.40 21.09 L470.40 21.53 L471.40 21.99 L472.40 22.46 L473.40 22.95 L474.40 23.45 L475.40 23.96 L476.40 24.49 L477.40 25.03 L478.40 25.59 L479.40 26.15 L480.40 26.73 L481.40 27.33 L482.40 27.93 L483.40 28.55 L484.40 29.18 L485.40 29.82 L486.40 30.48 L487.40 31.14 L488.40 31.82 L489.40 32.51 L490.40 33.22 L491.40 33.93 L492.40 34.66 L493.40 35.40 L494.40 36.15 L495.40 36.91 L496.40 37.69 L497.40 38.48 L498.40 39.28 L499.40 40.09 L500.40 40.91 L501.40 41.75 L502.40 42.60 L503.40 43.46 L504.40 44.33 L505.40 45.22 L506.40 46.12 L507.40 47.03 L508.40 47.96 L509.40 48.90 L510.40 49.85 L511.40 50.81 L512.40 51.79 L513.40 52.78 L514.40 53.79 L515.40 54.81 L516.40 55.84 L517.40 56.89 L518.40 57.96 L519.40 59.03 L520.40 60.12 L521.40 61.23 L522.40 62.35 L523.40 63.49 L524.40 64.65 L525.40 65.81 L526.40 67.00 L527.40 68.20 L528.40 69.42 L529.40 70.65 L530.40 71.90 L531.40 73.16 L532.40 74.45 L533.40 75.75 L534.40 77.06 L535.40 78.40 L536.40 79.75 L537.40 81.12 L538.40 82.50 L539.40 83.90 L540.40 85.33 L541.40 86.77 L542.40 88.22 L543.40 89.70 L544.40 91.19 L545.40 92.70 L546.40 94.23 L547.40 95.78 L548.40 97.34 L549.40 98.93 L550.40 100.53 L551.40 102.15 L552.40 103.79 L553.40 105.45 L554.40 107.13 L555.40 108.82 L556.40 110.54 L557.40 112.27 L558.40 114.02 L559.40 115.79 L560.40 117.58 L561.40 119.38 L562.40 121.20 L563.40 123.05 L564.40 124.91 L565.40 126.78 L566.40 128.68 L567.40 130.59 L568.40 132.52 L569.40 134.47 L570.40 136.44 L571.40 138.42 L572.40 140.42 L573.40 142.44 L574.40 144.47 L575.40 146.52 L576.40 148.59 L577.40 150.68 L578.40 152.78 L579.40 154.89 L580.40 157.03 L581.40 159.18 L582.40 161.34 L583.40 163.53 L584.40 165.72 L585.40 167.94 L586.40 170.17 L587.40 172.41 L588.40 174.68 L589.40 176.95 L590.40 179.24 L591.40 181.55 L592.40 183.88 L593.40 186.22 L594.40 188.57 L595.40 190.95 L596.40 193.34 L597.40 195.74 L598.40 198.16 L599.40 200.60 L600.40 203.06 L601.40 205.53 L602.40 208.02 L603.40 210.53 L604.40 213.06 L605.40 215.60 L606.40 218.17 L607.40 220.76 L608.40 223.36 L609.40 225.99 L610.40 228.65 L611.40 231.32 L612.40 234.02 L613.40 236.74 L614.40 239.49 L615.40 242.27 L616.40 245.08 L617.40 247.92 L618.40 250.78 L619.40 253.68 L620.40 256.62 L621.40 259.59 L622.40 262.60 L623.40 265.65 L624.40 268.74 L625.40 271.87 L626.40 275.05 L627.40 278.28 L628.40 281.56 L629.40 284.89 L630.40 288.28 L631.40 291.73 L632.40 295.24 L633.40 298.82 L634.40 302.46 L635.40 306.18 L636.40 309.97 L637.40 313.84 L638.40 317.80 L639.40 321.84 L640.40 325.98 L641.40 330.21 L642.40 334.55 L643.40 338.99 L644.40 343.55 L645.40 348.22 L646.40 353.02 L647.40 357.94 L648.40 363.00 L648.40 395.40 L647.40 395.40 L646.40 395.40 L645.40 395.40 L644.40 395.40 L643.40 395.40 L642.40 395.40 L641.40 395.40 L640.40 395.40 L639.40 364.15 L638.40 361.55 L637.40 358.82 L636.40 355.96 L635.40 352.99 L634.40 349.91 L633.40 346.73 L632.40 343.47 L631.40 340.12 L630.40 336.71 L629.40 333.23 L628.40 329.69 L627.40 326.10 L626.40 322.46 L625.40 318.79 L624.40 315.09 L623.40 311.37 L622.40 307.62 L621.40 303.85 L620.40 300.08 L619.40 296.30 L618.40 292.52 L617.40 288.74 L616.40 284.97 L615.40 281.21 L614.40 277.46 L613.40 273.73 L612.40 270.02 L611.40 266.33 L610.40 262.66 L609.40 259.03 L608.40 255.42 L607.40 251.84 L606.40 248.30 L605.40 244.79 L604.40 241.32 L603.40 237.88 L602.40 234.49 L601.40 231.13 L600.40 227.82 L599.40 224.55 L598.40 221.32 L597.40 218.14 L596.40 215.00 L595.40 211.90 L594.40 208.85 L593.40 205.85 L592.40 202.89 L591.40 199.98 L590.40 197.11 L589.40 194.28 L588.40 191.51 L587.40 188.77 L586.40 186.09 L585.40 183.44 L584.40 180.84 L583.40 178.29 L582.40 175.77 L581.40 173.30 L580.40 170.88 L579.40 168.49 L578.40 166.14 L577.40 163.84 L576.40 161.57 L575.40 159.34 L574.40 157.15 L573.40 155.00 L572.40 152.88 L571.40 150.80 L570.40 148.76 L569.40 146.75 L568.40 144.77 L567.40 142.83 L566.40 140.91 L565.40 139.03 L564.40 137.18 L563.40 135.36 L562.40 133.56 L561.40 131.79 L560.40 130.05 L559.40 128.34 L558.40 126.65 L557.40 124.99 L556.40 123.35 L555.40 121.73 L554.40 120.14 L553.40 118.57 L552.40 117.02 L551.40 115.49 L550.40 113.98 L549.40 112.49 L548.40 111.01 L547.40 109.56 L546.40 108.12 L545.40 106.70 L544.40 105.30 L543.40 103.91 L542.40 102.54 L541.40 101.18 L540.40 99.84 L539.40 98.51 L538.40 97.20 L537.40 95.90 L536.40 94.62 L535.40 93.34 L534.40 92.08 L533.40 90.84 L532.40 89.60 L531.40 88.38 L530.40 87.17 L529.40 85.97 L528.40 84.78 L527.40 83.61 L526.40 82.44 L525.40 81.29 L524.40 80.15 L523.40 79.02 L522.40 77.91 L521.40 76.80 L520.40 75.71 L519.40 74.63 L518.40 73.56 L517.40 72.50 L516.40 71.45 L515.40 70.42 L514.40 69.40 L513.40 68.39 L512.40 67.40 L511.40 66.41 L510.40 65.44 L509.40 64.49 L508.40 63.55 L507.40 62.62 L506.40 61.70 L505.40 60.80 L504.40 59.92 L503.40 59.05 L502.40 58.19 L501.40 57.35 L500.40 56.53 L499.40 55.72 L498.40 54.92 L497.40 54.15 L496.40 53.39 L495.40 52.65 L494.40 51.92 L493.40 51.22 L492.40 50.53 L491.40 49.85 L490.40 49.20 L489.40 48.57 L488.40 47.95 L487.40 47.35 L486.40 46.78 L485.40 46.22 L484.40 45.68 L483.40 45.16 L482.40 44.66 L481.40 44.19 L480.40 43.73 L479.40 43.29 L478.40 42.87 L477.40 42.48 L476.40 42.10 L475.40 41.75 L474.40 41.41 L473.40 41.10 L472.40 40.81 L471.40 40.54 L470.40 40.29 L469.40 40.06 L468.40 39.85 L467.40 39.66 L466.40 39.49 L465.40 39.35 L464.40 39.22 L463.40 39.11 L462.40 39.03 L461.40 38.96 L460.40 38.91 L459.40 38.89 L458.40 38.88 L457.40 38.89 L456.40 38.91 L455.40 38.96 L454.40 39.02 L453.40 39.11 L452.40 39.21 L451.40 39.32 L450.40 39.45 L449.40 39.60 L448.40 39.76 L447.40 39.94 L446.40 40.13 L445.40 40.34 L444.40 40.56 L443.40 40.79 L442.40 41.03 L441.40 41.29 L440.40 41.56 L439.40 41.84 L438.40 42.13 L437.40 42.42 L436.40 42.73 L435.40 43.05 L434.40 43.37 L433.40 43.71 L432.40 44.05 L431.40 44.39 L430.40 44.75 L429.40 45.10 L428.40 45.47 L427.40 45.84 L426.40 46.21 L425.40 46.59 L424.40 46.97 L423.40 47.35 L422.40 47.74 L421.40 48.12 L420.40 48.52 L419.40 48.91 L418.40 49.30 L417.40 49.70 L416.40 50.10 L415.40 50.50 L414.40 50.91 L413.40 51.31 L412.40 51.72 L411.40 52.13 L410.40 52.55 L409.40 52.96 L408.40 53.38 L407.40 53.81 L406.40 54.24 L405.40 54.68 L404.40 55.12 L403.40 55.57 L402.40 56.03 L401.40 56.51 Z" fill="#0000ff" fill-opacity="0.2"/>
<path d="M401.40 23.16 L402.40 22.77 L403.40 22.40 L404.40 22.05 L405.40 21.71 L406.40 21.38 L407.40 21.07 L408.40 20.77 L409.40 20.48 L410.40 20.20 L411.40 19.94 L412.40 19.69 L413.40 19.45 L414.40 19.22 L415.40 19.00 L416.40 18.79 L417.40 18.60 L418.40 18.41 L419.40 18.24 L420.40 18.08 L421.40 17.93 L422.40 17.79 L423.40 17.66 L424.40 17.54 L425.40 17.43 L426.40 17.34 L427.40 17.25 L428.40 17.17 L429.40 17.11 L430.40 17.06 L431.40 17.01 L432.40 16.98 L433.40 16.96 L434.40 16.95 L435.40 16.95 L436.40 16.96 L437.40 16.98 L438.40 17.02 L439.40 17.06 L440.40 17.12 L441.40 17.19 L442.40 17.27 L443.40 17.36 L444.40 17.46 L445.40 17.58 L446.40 17.71 L447.40 17.85 L448.40 18.00 L449.40 18.17 L450.40 18.34 L451.40 18.54 L452.40 18.74 L453.40 18.96 L454.40 19.19 L455.40 19.43 L456.40 19.69 L457.40 19.96 L458.40 20.24 L459.40 20.54 L460.40 20.85 L461.40 21.17 L462.40 21.51 L463.40 21.87 L464.40 22.24 L465.40 22.62 L466.40 23.02 L467.40 23.43 L468.40 23.86 L469.40 24.31 L470.40 24.77 L471.40 25.24 L472.40 25.73 L473.40 26.24 L474.40 26.76 L475.40 27.29 L476.40 27.85 L477.40 28.42 L478.40 29.00 L479.40 29.61 L480.40 30.22 L481.40 30.86 L482.40 31.51 L483.40 32.18 L484.40 32.86 L485.40 33.56 L486.40 34.28 L487.40 35.02 L488.40 35.77 L489.40 36.54 L490.40 37.32 L491.40 38.13 L492.40 38.95 L493.40 39.78 L494.40 40.64 L495.40 41.51 L496.40 42.40 L497.40 43.31 L498.40 44.23 L499.40 45.17 L500.40 46.13 L501.40 47.11 L502.40 48.10 L503.40 49.11 L504.40 50.14 L505.40 51.18 L506.40 52.24 L507.40 53.32 L508.40 54.42 L509.40 55.53 L510.40 56.66 L511.40 57.81 L512.40 58.98 L513.40 60.16 L514.40 61.36 L515.40 62.57 L516.40 63.80 L517.40 65.05 L518.40 66.32 L519.40 67.60 L520.40 68.90 L521.40 70.21 L522.40 71.55 L523.40 72.89 L524.40 74.26 L525.40 75.64 L526.40 77.03 L527.40 78.44 L528.40 79.87 L529.40 81.31 L530.40 82.77 L531.40 84.24 L532.40 85.73 L533.40 87.23 L534.40 88.75 L535.40 90.29 L536.40 91.83 L537.40 93.40 L538.40 94.98 L539.40 96.57 L540.40 98.17 L541.40 99.80 L542.40 101.43 L543.40 103.08 L544.40 104.74 L545.40 106.42 L546.40 108.11 L547.40 109.81 L548.40 111.53 L549.40 113.26 L550.40 115.00 L551.40 116.76 L552.40 118.53 L553.40 120.31 L554.40 122.11 L555.40 123.92 L556.40 125.74 L557.40 127.57 L558.40 129.42 L559.40 131.28 L560.40 133.15 L561.40 135.03 L562.40 136.93 L563.40 138.84 L564.40 140.76 L565.40 142.69 L566.40 144.63 L567.40 146.59 L568.40 148.56 L569.40 150.54 L570.40 152.54 L571.40 154.54 L572.40 156.56 L573.40 158.59 L574.40 160.63 L575.40 162.69 L576.40 164.76 L577.40 166.84 L578.40 168.93 L579.40 171.04 L580.40 173.15 L581.40 175.29 L582.40 177.43 L583.40 179.59 L584.40 181.76 L585.40 183.95 L586.40 186.15 L587.40 188.37 L588.40 190.60 L589.40 192.84 L590.40 195.10 L591.40 197.38 L592.40 199.67 L593.40 201.98 L594.40 204.30 L595.40 206.64 L596.40 209.00 L597.40 211.38 L598.40 213.77 L599.40 216.18 L600.40 218.62 L601.40 221.07 L602.40 223.54 L603.40 226.04 L604.40 228.55 L605.40 231.09 L606.40 233.65 L607.40 236.24 L608.40 238.85 L609.40 241.48 L610.40 244.14 L611.40 246.83 L612.40 249.54 L613.40 252.29 L614.40 255.06 L615.40 257.86 L616.40 260.70 L617.40 263.56 L618.40 266.46 L619.40 269.40 L620.40 272.37 L621.40 275.37 L622.40 278.42 L623.40 281.50 L624.40 284.62 L625.40 287.79 L626.40 291.00 L627.40 294.25 L628.40 297.55 L629.40 300.90 L630.40 304.29 L631.40 307.74 L632.40 311.24 L633.40 314.79 L634.40 318.40 L635.40 322.06 L636.40 325.79 L637.40 329.57 L638.40 333.42 L639.40 337.33 L640.40 341.31 L641.40 345.36 L642.40 349.48 L643.40 353.67 L644.40 357.93 L645.40 362.28 L645.40 395.40 L644.40 395.40 L643.40 395.40 L642.40 395.40 L641.40 395.40 L640.40 395.40 L639.40 395.40 L638.40 395.40 L637.40 395.40 L636.40 395.40 L635.40 395.40 L634.40 395.40 L633.40 395.40 L632.40 365.02 L631.40 360.01 L630.40 355.10 L629.40 350.29 L628.40 345.56 L627.40 340.93 L626.40 336.38 L625.40 331.91 L624.40 327.53 L623.40 323.22 L622.40 319.00 L621.40 314.85 L620.40 310.77 L619.40 306.77 L618.40 302.83 L617.40 298.96 L616.40 295.16 L615.40 291.43 L614.40 287.75 L613.40 284.14 L612.40 280.59 L611.40 277.09 L610.40 273.66 L609.40 270.28 L608.40 266.95 L607.40 263.67 L606.40 260.45 L605.40 257.27 L604.40 254.14 L603.40 251.06 L602.40 248.03 L601.40 245.04 L600.40 242.10 L599.40 239.19 L598.40 236.33 L597.40 233.51 L596.40 230.73 L595.40 227.98 L594.40 225.28 L593.40 222.61 L592.40 219.98 L591.40 217.38 L590.40 214.81 L589.40 212.28 L588.40 209.78 L587.40 207.32 L586.40 204.88 L585.40 202.47 L584.40 200.10 L583.40 197.75 L582.40 195.43 L581.40 193.14 L580.40 190.87 L579.40 188.64 L578.40 186.42 L577.40 184.24 L576.40 182.08 L575.40 179.94 L574.40 177.83 L573.40 175.74 L572.40 173.67 L571.40 171.63 L570.40 169.61 L569.40 167.61 L568.40 165.63 L567.40 163.68 L566.40 161.74 L565.40 159.83 L564.40 157.94 L563.40 156.06 L562.40 154.21 L561.40 152.38 L560.40 150.56 L559.40 148.77 L558.40 146.99 L557.40 145.23 L556.40 143.49 L555.40 141.77 L554.40 140.07 L553.40 138.39 L552.40 136.72 L551.40 135.07 L550.40 133.44 L549.40 131.82 L548.40 130.23 L547.40 128.65 L546.40 127.09 L545.40 125.54 L544.40 124.01 L543.40 122.50 L542.40 121.00 L541.40 119.53 L540.40 118.06 L539.40 116.62 L538.40 115.19 L537.40 113.78 L536.40 112.38 L535.40 111.00 L534.40 109.64 L533.40 108.29 L532.40 106.96 L531.40 105.64 L530.40 104.35 L529.40 103.06 L528.40 101.80 L527.40 100.55 L526.40 99.31 L525.40 98.09 L524.40 96.89 L523.40 95.70 L522.40 94.53 L521.40 93.38 L520.40 92.24 L519.40 91.12 L518.40 90.01 L517.40 88.92 L516.40 87.84 L515.40 86.78 L514.40 85.74 L513.40 84.71 L512.40 83.70 L511.40 82.71 L510.40 81.73 L509.40 80.76 L508.40 79.81 L507.40 78.88 L506.40 77.97 L505.40 77.06 L504.40 76.18 L503.40 75.31 L502.40 74.46 L501.40 73.62 L500.40 72.80 L499.40 71.99 L498.40 71.20 L497.40 70.42 L496.40 69.66 L495.40 68.92 L494.40 68.19 L493.40 67.48 L492.40 66.78 L491.40 66.10 L490.40 65.43 L489.40 64.78 L488.40 64.14 L487.40 63.52 L486.40 62.92 L485.40 62.33 L484.40 61.75 L483.40 61.19 L482.40 60.65 L481.40 60.12 L480.40 59.60 L479.40 59.10 L478.40 58.62 L477.40 58.15 L476.40 57.69 L475.40 57.25 L474.40 56.82 L473.40 56.41 L472.40 56.01 L471.40 55.63 L470.40 55.26 L469.40 54.91 L468.40 54.57 L467.40 54.25 L466.40 53.94 L465.40 53.64 L464.40 53.36 L463.40 53.09 L462.40 52.84 L461.40 52.60 L460.40 52.37 L459.40 52.16 L458.40 51.97 L457.40 51.78 L456.40 51.61 L455.40 51.46 L454.40 51.32 L453.40 51.19 L452.40 51.08 L451.40 50.98 L450.40 50.89 L449.40 50.82 L448.40 50.76 L447.40 50.72 L446.40 50.69 L445.40 50.67 L444.40 50.67 L443.40 50.68 L442.40 50.70 L441.40 50.74 L440.40 50.80 L439.40 50.87 L438.40 50.95 L437.40 51.05 L436.40 51.16 L435.40 51.28 L434.40 51.43 L433.40 51.58 L432.40 51.75 L431.40 51.94 L430.40 52.14 L429.40 52.36 L428.40 52.59 L427.40 52.84 L426.40 53.10 L425.40 53.38 L424.40 53.68 L423.40 53.99 L422.40 54.32 L421.40 54.67 L420.40 55.03 L419.40 55.41 L418.40 55.81 L417.40 56.23 L416.40 56.67 L415.40 57.13 L414.40 57.60 L413.40 58.10 L412.40 58.62 L411.40 59.16 L410.40 59.72 L409.40 60.30 L408.40 60.90 L407.40 61.53 L406.40 62.18 L405.40 62.85 L404.40 63.55 L403.40 64.27 L402.40 65.02 L401.40 65.80 Z" fill="#ffa500" fill-opacity="0.2"/>
<path d="M401.40 25.02 L402.40 24.27 L403.40 23.60 L404.40 22.98 L405.40 22.43 L406.40 21.94 L407.40 21.49 L408.40 21.10 L409.40 20.75 L410.40 20.45 L411.40 20.18 L412.40 19.96 L413.40 19.77 L414.40 19.61 L415.40 19.48 L416.40 19.38 L417.40 19.31 L418.40 19.26 L419.40 19.23 L420.40 19.23 L421.40 19.24 L422.40 19.28 L423.40 19.33 L424.40 19.40 L425.40 19.48 L426.40 19.58 L427.40 19.69 L428.40 19.82 L429.40 19.96 L430.40 20.11 L431.40 20.27 L432.40 20.44 L433.40 20.62 L434.40 20.82 L435.40 21.02 L436.40 21.24 L437.40 21.46 L438.40 21.70 L439.40 21.94 L440.40 22.19 L441.40 22.46 L442.40 22.73 L443.40 23.01 L444.40 23.31 L445.40 23.61 L446.40 23.93 L447.40 24.25 L448.40 24.59 L449.40 24.94 L450.40 25.30 L451.40 25.67 L452.40 26.05 L453.40 26.45 L454.40 26.86 L455.40 27.28 L456.40 27.71 L457.40 28.16 L458.40 28.62 L459.40 29.10 L460.40 29.59 L461.40 30.09 L462.40 30.61 L463.40 31.15 L464.40 31.70 L465.40 32.26 L466.40 32.85 L467.40 33.45 L468.40 34.06 L469.40 34.69 L470.40 35.34 L471.40 36.01 L472.40 36.69 L473.40 37.39 L474.40 38.11 L475.40 38.85 L476.40 39.60 L477.40 40.38 L478.40 41.17 L479.40 41.98 L480.40 42.80 L481.40 43.65 L482.40 44.51 L483.40 45.40 L484.40 46.30 L485.40 47.22 L486.40 48.15 L487.40 49.11 L488.40 50.08 L489.40 51.08 L490.40 52.09 L491.40 53.12 L492.40 54.16 L493.40 55.23 L494.40 56.31 L495.40 57.41 L496.40 58.53 L497.40 59.66 L498.40 60.81 L499.40 61.98 L500.40 63.16 L501.40 64.36 L502.40 65.58 L503.40 66.82 L504.40 68.07 L505.40 69.33 L506.40 70.61 L507.40 71.91 L508.40 73.22 L509.40 74.54 L510.40 75.88 L511.40 77.24 L512.40 78.60 L513.40 79.99 L514.40 81.38 L515.40 82.79 L516.40 84.21 L517.40 85.65 L518.40 87.09 L519.40 88.55 L520.40 90.03 L521.40 91.51 L522.40 93.01 L523.40 94.51 L524.40 96.03 L525.40 97.56 L526.40 99.10 L527.40 100.66 L528.40 102.22 L529.40 103.80 L530.40 105.38 L531.40 106.98 L532.40 108.58 L533.40 110.20 L534.40 111.83 L535.40 113.47 L536.40 115.12 L537.40 116.78 L538.40 118.45 L539.40 120.13 L540.40 121.82 L541.40 123.52 L542.40 125.23 L543.40 126.95 L544.40 128.69 L545.40 130.43 L546.40 132.19 L547.40 133.96 L548.40 135.74 L549.40 137.53 L550.40 139.34 L551.40 141.15 L552.40 142.98 L553.40 144.82 L554.40 146.68 L555.40 148.55 L556.40 150.43 L557.40 152.33 L558.40 154.24 L559.40 156.17 L560.40 158.12 L561.40 160.07 L562.40 162.05 L563.40 164.04 L564.40 166.05 L565.40 168.08 L566.40 170.13 L567.40 172.19 L568.40 174.27 L569.40 176.38 L570.40 178.50 L571.40 180.64 L572.40 182.81 L573.40 184.99 L574.40 187.20 L575.40 189.43 L576.40 191.69 L577.40 193.96 L578.40 196.26 L579.40 198.59 L580.40 200.94 L581.40 203.31 L582.40 205.71 L583.40 208.14 L584.40 210.59 L585.40 213.06 L586.40 215.57 L587.40 218.10 L588.40 220.65 L589.40 223.24 L590.40 225.85 L591.40 228.48 L592.40 231.15 L593.40 233.84 L594.40 236.55 L595.40 239.30 L596.40 242.07 L597.40 244.86 L598.40 247.68 L599.40 250.53 L600.40 253.40 L601.40 256.29 L602.40 259.21 L603.40 262.14 L604.40 265.10 L605.40 268.08 L606.40 271.07 L607.40 274.08 L608.40 277.11 L609.40 280.15 L610.40 283.20 L611.40 286.27 L612.40 289.34 L613.40 292.41 L614.40 295.49 L615.40 298.57 L616.40 301.65 L617.40 304.73 L618.40 307.79 L619.40 310.84 L620.40 313.88 L621.40 316.90 L622.40 319.90 L623.40 322.87 L624.40 325.81 L625.40 328.71 L626.40 331.57 L627.40 334.39 L628.40 337.15 L629.40 339.86 L630.40 342.51 L631.40 345.08 L632.40 347.58 L633.40 349.99 L634.40 352.31 L635.40 354.54 L636.40 356.66 L637.40 358.66 L638.40 360.54 L639.40 362.29 L640.40 363.89 L641.40 365.35 L641.40 395.40 L640.40 395.40 L639.40 395.40 L638.40 395.40 L637.40 395.40 L636.40 395.40 L635.40 395.40 L634.40 395.40 L633.40 395.40 L632.40 395.40 L631.40 395.40 L630.40 395.40 L629.40 395.40 L628.40 395.40 L627.40 395.40 L626.40 395.40 L625.40 395.40 L624.40 395.40 L623.40 395.40 L622.40 395.40 L621.40 395.40 L620.40 364.65 L619.40 360.68 L618.40 356.77 L617.40 352.91 L616.40 349.10 L615.40 345.34 L614.40 341.62 L613.40 337.95 L612.40 334.33 L611.40 330.76 L610.40 327.22 L609.40 323.74 L608.40 320.29 L607.40 316.89 L606.40 313.54 L605.40 310.22 L604.40 306.94 L603.40 303.70 L602.40 300.51 L601.40 297.35 L600.40 294.23 L599.40 291.14 L598.40 288.09 L597.40 285.08 L596.40 282.11 L595.40 279.17 L594.40 276.26 L593.40 273.39 L592.40 270.55 L591.40 267.74 L590.40 264.97 L589.40 262.23 L588.40 259.52 L587.40 256.84 L586.40 254.19 L585.40 251.57 L584.40 248.98 L583.40 246.41 L582.40 243.88 L581.40 241.37 L580.40 238.90 L579.40 236.44 L578.40 234.02 L577.40 231.62 L576.40 229.25 L575.40 226.90 L574.40 224.58 L573.40 222.28 L572.40 220.01 L571.40 217.76 L570.40 215.53 L569.40 213.33 L568.40 211.15 L567.40 209.00 L566.40 206.86 L565.40 204.75 L564.40 202.66 L563.40 200.59 L562.40 198.54 L561.40 196.52 L560.40 194.51 L559.40 192.52 L558.40 190.56 L557.40 188.61 L556.40 186.69 L555.40 184.78 L554.40 182.90 L553.40 181.03 L552.40 179.18 L551.40 177.35 L550.40 175.54 L549.40 173.74 L548.40 171.97 L547.40 170.21 L546.40 168.47 L545.40 166.75 L544.40 165.04 L543.40 163.35 L542.40 161.68 L541.40 160.03 L540.40 158.39 L539.40 156.77 L538.40 155.17 L537.40 153.58 L536.40 152.01 L535.40 150.46 L534.40 148.92 L533.40 147.40 L532.40 145.89 L531.40 144.40 L530.40 142.93 L529.40 141.47 L528.40 140.02 L527.40 138.60 L526.40 137.18 L525.40 135.79 L524.40 134.41 L523.40 133.04 L522.40 131.69 L521.40 130.35 L520.40 129.03 L519.40 127.73 L518.40 126.44 L517.40 125.16 L516.40 123.90 L515.40 122.66 L514.40 121.43 L513.40 120.21 L512.40 119.01 L511.40 117.83 L510.40 116.66 L509.40 115.50 L508.40 114.36 L507.40 113.24 L506.40 112.12 L505.40 111.03 L504.40 109.95 L503.40 108.88 L502.40 107.83 L501.40 106.80 L500.40 105.77 L499.40 104.77 L498.40 103.78 L497.40 102.80 L496.40 101.84 L495.40 100.89 L494.40 99.96 L493.40 99.05 L492.40 98.14 L491.40 97.26 L490.40 96.39 L489.40 95.53 L488.40 94.69 L487.40 93.87 L486.40 93.06 L485.40 92.26 L484.40 91.48 L483.40 90.72 L482.40 89.97 L481.40 89.23 L480.40 88.51 L479.40 87.81 L478.40 87.12 L477.40 86.45 L476.40 85.79 L475.40 85.15 L474.40 84.53 L473.40 83.91 L472.40 83.32 L471.40 82.74 L470.40 82.17 L469.40 81.63 L468.40 81.09 L467.40 80.58 L466.40 80.07 L465.40 79.59 L464.40 79.12 L463.40 78.66 L462.40 78.22 L461.40 77.80 L460.40 77.39 L459.40 76.99 L458.40 76.62 L457.40 76.26 L456.40 75.91 L455.40 75.58 L454.40 75.26 L453.40 74.96 L452.40 74.68 L451.40 74.41 L450.40 74.16 L449.40 73.92 L448.40 73.69 L447.40 73.49 L446.40 73.29 L445.40 73.12 L444.40 72.96 L443.40 72.81 L442.40 72.68 L441.40 72.56 L440.40 72.46 L439.40 72.37 L438.40 72.30 L437.40 72.24 L436.40 72.20 L435.40 72.17 L434.40 72.15 L433.40 72.15 L432.40 72.17 L431.40 72.19 L430.40 72.24 L429.40 72.29 L428.40 72.36 L427.40 72.44 L426.40 72.54 L425.40 72.65 L424.40 72.77 L423.40 72.91 L422.40 73.06 L421.40 73.22 L420.40 73.39 L419.40 73.58 L418.40 73.78 L417.40 73.99 L416.40 74.21 L415.40 74.44 L414.40 74.69 L413.40 74.94 L412.40 75.21 L411.40 75.49 L410.40 75.77 L409.40 76.07 L408.40 76.38 L407.40 76.70 L406.40 77.02 L405.40 77.36 L404.40 77.70 L403.40 78.05 L402.40 78.42 L401.40 78.78 Z" fill="#ff0000" fill-opacity="0.2"/>
<path d="M401.40 39.31 L402.40 38.57 L403.40 37.85 L404.40 37.16 L405.40 36.50 L406.40 35.86 L407.40 35.24 L408.40 34.65 L409.40 34.08 L410.40 33.53 L411.40 33.01 L412.40 32.50 L413.40 32.02 L414.40 31.56 L415.40 31.11 L416.40 30.69 L417.40 30.28 L418.40 29.90 L419.40 29.53 L420.40 29.18 L421.40 28.84 L422.40 28.52 L423.40 28.22 L424.40 27.94 L425.40 27.67 L426.40 27.42 L427.40 27.18 L428.40 26.95 L429.40 26.75 L430.40 26.55 L431.40 26.38 L432.40 26.21 L433.40 26.06 L434.40 25.93 L435.40 25.80 L436.40 25.69 L437.40 25.60 L438.40 25.52 L439.40 25.45 L440.40 25.40 L441.40 25.36 L442.40 25.33 L443.40 25.31 L444.40 25.31 L445.40 25.32 L446.40 25.35 L447.40 25.38 L448.40 25.44 L449.40 25.50 L450.40 25.57 L451.40 25.66 L452.40 25.77 L453.40 25.88 L454.40 26.01 L455.40 26.15 L456.40 26.30 L457.40 26.47 L458.40 26.65 L459.40 26.84 L460.40 27.05 L461.40 27.27 L462.40 27.50 L463.40 27.75 L464.40 28.01 L465.40 28.28 L466.40 28.57 L467.40 28.87 L468.40 29.19 L469.40 29.51 L470.40 29.86 L471.40 30.21 L472.40 30.58 L473.40 30.97 L474.40 31.36 L475.40 31.78 L476.40 32.20 L477.40 32.64 L478.40 33.10 L479.40 33.57 L480.40 34.05 L481.40 34.55 L482.40 35.07 L483.40 35.59 L484.40 36.14 L485.40 36.70 L486.40 37.27 L487.40 37.86 L488.40 38.46 L489.40 39.08 L490.40 39.71 L491.40 40.36 L492.40 41.03 L493.40 41.71 L494.40 42.41 L495.40 43.12 L496.40 43.84 L497.40 44.59 L498.40 45.35 L499.40 46.12 L500.40 46.91 L501.40 47.72 L502.40 48.54 L503.40 49.38 L504.40 50.23 L505.40 51.10 L506.40 51.99 L507.40 52.89 L508.40 53.81 L509.40 54.75 L510.40 55.70 L511.40 56.67 L512.40 57.65 L513.40 58.65 L514.40 59.67 L515.40 60.70 L516.40 61.75 L517.40 62.81 L518.40 63.89 L519.40 64.99 L520.40 66.11 L521.40 67.24 L522.40 68.39 L523.40 69.55 L524.40 70.73 L525.40 71.93 L526.40 73.14 L527.40 74.37 L528.40 75.61 L529.40 76.88 L530.40 78.15 L531.40 79.45 L532.40 80.76 L533.40 82.09 L534.40 83.43 L535.40 84.79 L536.40 86.17 L537.40 87.56 L538.40 88.97 L539.40 90.40 L540.40 91.84 L541.40 93.30 L542.40 94.78 L543.40 96.27 L544.40 97.78 L545.40 99.31 L546.40 100.85 L547.40 102.41 L548.40 103.98 L549.40 105.57 L550.40 107.18 L551.40 108.81 L552.40 110.45 L553.40 112.11 L554.40 113.78 L555.40 115.48 L556.40 117.18 L557.40 118.91 L558.40 120.66 L559.40 122.42 L560.40 124.19 L561.40 125.99 L562.40 127.80 L563.40 129.63 L564.40 131.48 L565.40 133.35 L566.40 135.23 L567.40 137.14 L568.40 139.06 L569.40 141.00 L570.40 142.96 L571.40 144.93 L572.40 146.93 L573.40 148.95 L574.40 150.98 L575.40 153.04 L576.40 155.11 L577.40 157.21 L578.40 159.33 L579.40 161.46 L580.40 163.62 L581.40 165.80 L582.40 168.01 L583.40 170.23 L584.40 172.48 L585.40 174.75 L586.40 177.04 L587.40 179.36 L588.40 181.70 L589.40 184.07 L590.40 186.46 L591.40 188.88 L592.40 191.32 L593.40 193.79 L594.40 196.29 L595.40 198.82 L596.40 201.37 L597.40 203.96 L598.40 206.57 L599.40 209.22 L600.40 211.90 L601.40 214.61 L602.40 217.35 L603.40 220.12 L604.40 222.93 L605.40 225.78 L606.40 228.66 L607.40 231.58 L608.40 234.54 L609.40 237.53 L610.40 240.57 L611.40 243.65 L612.40 246.77 L613.40 249.93 L614.40 253.14 L615.40 256.39 L616.40 259.69 L617.40 263.04 L618.40 266.43 L619.40 269.88 L620.40 273.38 L621.40 276.93 L622.40 280.54 L623.40 284.20 L624.40 287.92 L625.40 291.70 L626.40 295.54 L627.40 299.45 L628.40 303.42 L629.40 307.45 L630.40 311.55 L631.40 315.72 L632.40 319.96 L633.40 324.28 L634.40 328.67 L635.40 333.14 L636.40 337.69 L637.40 342.31 L638.40 347.03 L639.40 351.82 L640.40 356.71 L641.40 361.68" fill="none" stroke="#0000ff" stroke-width="1.35" stroke-opacity="0.9"/>
<path d="M401.40 43.04 L402.40 42.53 L403.40 42.04 L404.40 41.55 L405.40 41.08 L406.40 40.62 L407.40 40.16 L408.40 39.73 L409.40 39.30 L410.40 38.88 L411.40 38.48 L412.40 38.09 L413.40 37.71 L414.40 37.35 L415.40 36.99 L416.40 36.65 L417.40 36.32 L418.40 36.01 L419.40 35.71 L420.40 35.42 L421.40 35.14 L422.40 34.88 L423.40 34.63 L424.40 34.40 L425.40 34.18 L426.40 33.97 L427.40 33.78 L428.40 33.60 L429.40 33.43 L430.40 33.28 L431.40 33.14 L432.40 33.02 L433.40 32.91 L434.40 32.81 L435.40 32.73 L436.40 32.67 L437.40 32.62 L438.40 32.58 L439.40 32.56 L440.40 32.55 L441.40 32.56 L442.40 32.58 L443.40 32.62 L444.40 32.67 L445.40 32.74 L446.40 32.82 L447.40 32.92 L448.40 33.04 L449.40 33.17 L450.40 33.31 L451.40 33.47 L452.40 33.64 L453.40 33.83 L454.40 34.04 L455.40 34.26 L456.40 34.50 L457.40 34.75 L458.40 35.02 L459.40 35.30 L460.40 35.60 L461.40 35.91 L462.40 36.25 L463.40 36.59 L464.40 36.95 L465.40 37.33 L466.40 37.72 L467.40 38.13 L468.40 38.55 L469.40 38.99 L470.40 39.45 L471.40 39.92 L472.40 40.41 L473.40 40.91 L474.40 41.43 L475.40 41.96 L476.40 42.51 L477.40 43.08 L478.40 43.66 L479.40 44.26 L480.40 44.87 L481.40 45.50 L482.40 46.14 L483.40 46.80 L484.40 47.47 L485.40 48.16 L486.40 48.87 L487.40 49.59 L488.40 50.32 L489.40 51.08 L490.40 51.84 L491.40 52.63 L492.40 53.42 L493.40 54.24 L494.40 55.07 L495.40 55.91 L496.40 56.77 L497.40 57.64 L498.40 58.53 L499.40 59.44 L500.40 60.36 L501.40 61.29 L502.40 62.24 L503.40 63.21 L504.40 64.19 L505.40 65.18 L506.40 66.19 L507.40 67.22 L508.40 68.26 L509.40 69.31 L510.40 70.38 L511.40 71.46 L512.40 72.56 L513.40 73.68 L514.40 74.80 L515.40 75.95 L516.40 77.10 L517.40 78.27 L518.40 79.46 L519.40 80.66 L520.40 81.88 L521.40 83.11 L522.40 84.35 L523.40 85.61 L524.40 86.88 L525.40 88.17 L526.40 89.47 L527.40 90.79 L528.40 92.11 L529.40 93.46 L530.40 94.82 L531.40 96.19 L532.40 97.58 L533.40 98.98 L534.40 100.39 L535.40 101.82 L536.40 103.27 L537.40 104.72 L538.40 106.19 L539.40 107.68 L540.40 109.18 L541.40 110.69 L542.40 112.22 L543.40 113.77 L544.40 115.32 L545.40 116.89 L546.40 118.48 L547.40 120.08 L548.40 121.69 L549.40 123.32 L550.40 124.96 L551.40 126.62 L552.40 128.29 L553.40 129.97 L554.40 131.67 L555.40 133.39 L556.40 135.11 L557.40 136.86 L558.40 138.62 L559.40 140.39 L560.40 142.17 L561.40 143.98 L562.40 145.79 L563.40 147.63 L564.40 149.47 L565.40 151.33 L566.40 153.21 L567.40 155.11 L568.40 157.01 L569.40 158.94 L570.40 160.88 L571.40 162.83 L572.40 164.80 L573.40 166.79 L574.40 168.79 L575.40 170.81 L576.40 172.85 L577.40 174.90 L578.40 176.97 L579.40 179.06 L580.40 181.16 L581.40 183.28 L582.40 185.42 L583.40 187.57 L584.40 189.75 L585.40 191.94 L586.40 194.15 L587.40 196.38 L588.40 198.62 L589.40 200.89 L590.40 203.18 L591.40 205.48 L592.40 207.80 L593.40 210.15 L594.40 212.51 L595.40 214.90 L596.40 217.30 L597.40 219.73 L598.40 222.17 L599.40 224.64 L600.40 227.13 L601.40 229.65 L602.40 232.18 L603.40 234.74 L604.40 237.32 L605.40 239.93 L606.40 242.56 L607.40 245.21 L608.40 247.89 L609.40 250.60 L610.40 253.33 L611.40 256.08 L612.40 258.86 L613.40 261.67 L614.40 264.51 L615.40 267.37 L616.40 270.27 L617.40 273.19 L618.40 276.14 L619.40 279.12 L620.40 282.13 L621.40 285.17 L622.40 288.25 L623.40 291.35 L624.40 294.49 L625.40 297.66 L626.40 300.86 L627.40 304.10 L628.40 307.38 L629.40 310.69 L630.40 314.03 L631.40 317.41 L632.40 320.83 L633.40 324.29 L634.40 327.79 L635.40 331.33 L636.40 334.90 L637.40 338.52 L638.40 342.18 L639.40 345.88 L640.40 349.63 L641.40 353.42 L642.40 357.25 L643.40 361.13 L644.40 365.06" fill="none" stroke="#ffa500" stroke-width="1.35" stroke-opacity="0.9"/>
<path d="M401.40 55.22 L402.40 54.85 L403.40 54.48 L404.40 54.13 L405.40 53.79 L406.40 53.45 L407.40 53.13 L408.40 52.83 L409.40 52.53 L410.40 52.25 L411.40 51.98 L412.40 51.72 L413.40 51.48 L414.40 51.25 L415.40 51.03 L416.40 50.82 L417.40 50.63 L418.40 50.45 L419.40 50.29 L420.40 50.14 L421.40 50.01 L422.40 49.88 L423.40 49.78 L424.40 49.69 L425.40 49.61 L426.40 49.54 L427.40 49.50 L428.40 49.46 L429.40 49.44 L430.40 49.44 L431.40 49.45 L432.40 49.48 L433.40 49.52 L434.40 49.58 L435.40 49.65 L436.40 49.74 L437.40 49.84 L438.40 49.96 L439.40 50.09 L440.40 50.24 L441.40 50.41 L442.40 50.59 L443.40 50.79 L444.40 51.00 L445.40 51.23 L446.40 51.47 L447.40 51.73 L448.40 52.01 L449.40 52.30 L450.40 52.61 L451.40 52.93 L452.40 53.27 L453.40 53.62 L454.40 53.99 L455.40 54.38 L456.40 54.78 L457.40 55.20 L458.40 55.63 L459.40 56.08 L460.40 56.55 L461.40 57.03 L462.40 57.53 L463.40 58.04 L464.40 58.57 L465.40 59.12 L466.40 59.68 L467.40 60.25 L468.40 60.84 L469.40 61.45 L470.40 62.07 L471.40 62.71 L472.40 63.37 L473.40 64.04 L474.40 64.72 L475.40 65.42 L476.40 66.14 L477.40 66.87 L478.40 67.62 L479.40 68.38 L480.40 69.16 L481.40 69.95 L482.40 70.76 L483.40 71.58 L484.40 72.42 L485.40 73.27 L486.40 74.14 L487.40 75.02 L488.40 75.92 L489.40 76.84 L490.40 77.76 L491.40 78.71 L492.40 79.67 L493.40 80.64 L494.40 81.63 L495.40 82.63 L496.40 83.65 L497.40 84.68 L498.40 85.73 L499.40 86.79 L500.40 87.86 L501.40 88.96 L502.40 90.06 L503.40 91.18 L504.40 92.32 L505.40 93.46 L506.40 94.63 L507.40 95.81 L508.40 97.00 L509.40 98.21 L510.40 99.43 L511.40 100.66 L512.40 101.91 L513.40 103.18 L514.40 104.46 L515.40 105.75 L516.40 107.06 L517.40 108.38 L518.40 109.72 L519.40 111.07 L520.40 112.44 L521.40 113.82 L522.40 115.21 L523.40 116.62 L524.40 118.04 L525.40 119.48 L526.40 120.93 L527.40 122.40 L528.40 123.88 L529.40 125.38 L530.40 126.89 L531.40 128.41 L532.40 129.95 L533.40 131.50 L534.40 133.07 L535.40 134.66 L536.40 136.25 L537.40 137.87 L538.40 139.50 L539.40 141.14 L540.40 142.80 L541.40 144.47 L542.40 146.16 L543.40 147.86 L544.40 149.58 L545.40 151.32 L546.40 153.07 L547.40 154.83 L548.40 156.61 L549.40 158.41 L550.40 160.22 L551.40 162.05 L552.40 163.90 L553.40 165.76 L554.40 167.64 L555.40 169.53 L556.40 171.44 L557.40 173.37 L558.40 175.31 L559.40 177.27 L560.40 179.25 L561.40 181.24 L562.40 183.25 L563.40 185.28 L564.40 187.33 L565.40 189.39 L566.40 191.47 L567.40 193.58 L568.40 195.69 L569.40 197.83 L570.40 199.99 L571.40 202.16 L572.40 204.36 L573.40 206.57 L574.40 208.80 L575.40 211.05 L576.40 213.32 L577.40 215.62 L578.40 217.93 L579.40 220.26 L580.40 222.61 L581.40 224.99 L582.40 227.38 L583.40 229.80 L584.40 232.24 L585.40 234.70 L586.40 237.18 L587.40 239.68 L588.40 242.21 L589.40 244.76 L590.40 247.34 L591.40 249.93 L592.40 252.55 L593.40 255.20 L594.40 257.87 L595.40 260.56 L596.40 263.28 L597.40 266.03 L598.40 268.80 L599.40 271.60 L600.40 274.42 L601.40 277.27 L602.40 280.15 L603.40 283.05 L604.40 285.99 L605.40 288.95 L606.40 291.94 L607.40 294.95 L608.40 298.00 L609.40 301.08 L610.40 304.19 L611.40 307.33 L612.40 310.49 L613.40 313.69 L614.40 316.93 L615.40 320.19 L616.40 323.49 L617.40 326.82 L618.40 330.18 L619.40 333.58 L620.40 337.01 L621.40 340.48 L622.40 343.98 L623.40 347.52 L624.40 351.10 L625.40 354.71 L626.40 358.36 L627.40 362.05" fill="none" stroke="#ff0000" stroke-width="1.35" stroke-opacity="0.9"/>
</g>
<rect x="51.10" y="1.55" width="290.10" height="313.85" fill="none" stroke="#a4a4a4" stroke-width="1.3"/>
<path d="M51.10 315.20 v2.20 M62.70 315.20 v1.30 M74.31 315.20 v1.30 M85.91 315.20 v1.30 M97.52 315.20 v1.30 M109.12 315.20 v2.20 M120.72 315.20 v1.30 M132.33 315.20 v1.30 M143.93 315.20 v1.30 M155.54 315.20 v1.30 M167.14 315.20 v2.20 M178.74 315.20 v1.30 M190.35 315.20 v1.30 M201.95 315.20 v1.30 M213.56 315.20 v1.30 M225.16 315.20 v2.20 M236.76 315.20 v1.30 M248.37 315.20 v1.30 M259.97 315.20 v1.30 M271.58 315.20 v1.30 M283.18 315.20 v2.20 M294.78 315.20 v1.30 M306.39 315.20 v1.30 M317.99 315.20 v1.30 M329.60 315.20 v1.30 M341.20 315.20 v2.20 M51.30 315.40 h-2.20 M341.00 315.40 h2.20 M51.30 298.24 h-1.30 M341.00 298.24 h1.30 M51.30 288.20 h-1.30 M341.00 288.20 h1.30 M51.30 281.08 h-1.30 M341.00 281.08 h1.30 M51.30 275.56 h-1.30 M341.00 275.56 h1.30 M51.30 271.05 h-1.30 M341.00 271.05 h1.30 M51.30 267.23 h-1.30 M341.00 267.23 h1.30 M51.30 263.92 h-1.30 M341.00 263.92 h1.30 M51.30 261.01 h-1.30 M341.00 261.01 h1.30 M51.30 258.40 h-2.20 M341.00 258.40 h2.20 M51.30 241.24 h-1.30 M341.00 241.24 h1.30 M51.30 231.20 h-1.30 M341.00 231.20 h1.30 M51.30 224.08 h-1.30 M341.00 224.08 h1.30 M51.30 218.56 h-1.30 M341.00 218.56 h1.30 M51.30 214.05 h-1.30 M341.00 214.05 h1.30 M51.30 210.23 h-1.30 M341.00 210.23 h1.30 M51.30 206.92 h-1.30 M341.00 206.92 h1.30 M51.30 204.01 h-1.30 M341.00 204.01 h1.30 M51.30 201.40 h-2.20 M341.00 201.40 h2.20 M51.30 184.24 h-1.30 M341.00 184.24 h1.30 M51.30 174.20 h-1.30 M341.00 174.20 h1.30 M51.30 167.08 h-1.30 M341.00 167.08 h1.30 M51.30 161.56 h-1.30 M341.00 161.56 h1.30 M51.30 157.05 h-1.30 M341.00 157.05 h1.30 M51.30 153.23 h-1.30 M341.00 153.23 h1.30 M51.30 149.92 h-1.30 M341.00 149.92 h1.30 M51.30 147.01 h-1.30 M341.00 147.01 h1.30 M51.30 144.40 h-2.20 M341.00 144.40 h2.20 M51.30 127.24 h-1.30 M341.00 127.24 h1.30 M51.30 117.20 h-1.30 M341.00 117.20 h1.30 M51.30 110.08 h-1.30 M341.00 110.08 h1.30 M51.30 104.56 h-1.30 M341.00 104.56 h1.30 M51.30 100.05 h-1.30 M341.00 100.05 h1.30 M51.30 96.23 h-1.30 M341.00 96.23 h1.30 M51.30 92.92 h-1.30 M341.00 92.92 h1.30 M51.30 90.01 h-1.30 M341.00 90.01 h1.30 M51.30 87.40 h-2.20 M341.00 87.40 h2.20 M51.30 70.24 h-1.30 M341.00 70.24 h1.30 M51.30 60.20 h-1.30 M341.00 60.20 h1.30 M51.30 53.08 h-1.30 M341.00 53.08 h1.30 M51.30 47.56 h-1.30 M341.00 47.56 h1.30 M51.30 43.05 h-1.30 M341.00 43.05 h1.30 M51.30 39.23 h-1.30 M341.00 39.23 h1.30 M51.30 35.92 h-1.30 M341.00 35.92 h1.30 M51.30 33.01 h-1.30 M341.00 33.01 h1.30 M51.30 30.40 h-2.20 M341.00 30.40 h2.20 M51.30 13.24 h-1.30 M341.00 13.24 h1.30 M51.30 3.20 h-1.30 M341.00 3.20 h1.30" stroke="#5a5a5a" stroke-width="0.8" fill="none"/>
<rect x="403.40" y="1.55" width="307.50" height="313.85" fill="none" stroke="#a4a4a4" stroke-width="1.3"/>
<path d="M403.40 315.20 v2.20 M415.70 315.20 v1.30 M428.00 315.20 v1.30 M440.30 315.20 v1.30 M452.60 315.20 v1.30 M464.90 315.20 v2.20 M477.20 315.20 v1.30 M489.50 315.20 v1.30 M501.80 315.20 v1.30 M514.10 315.20 v1.30 M526.40 315.20 v2.20 M538.70 315.20 v1.30 M551.00 315.20 v1.30 M563.30 315.20 v1.30 M575.60 315.20 v1.30 M587.90 315.20 v2.20 M600.20 315.20 v1.30 M612.50 315.20 v1.30 M624.80 315.20 v1.30 M637.10 315.20 v1.30 M649.40 315.20 v2.20 M661.70 315.20 v1.30 M674.00 315.20 v1.30 M686.30 315.20 v1.30 M698.60 315.20 v1.30 M710.90 315.20 v2.20 M403.60 315.40 h-2.20 M710.70 315.40 h2.20 M403.60 298.24 h-1.30 M710.70 298.24 h1.30 M403.60 288.20 h-1.30 M710.70 288.20 h1.30 M403.60 281.08 h-1.30 M710.70 281.08 h1.30 M403.60 275.56 h-1.30 M710.70 275.56 h1.30 M403.60 271.05 h-1.30 M710.70 271.05 h1.30 M403.60 267.23 h-1.30 M710.70 267.23 h1.30 M403.60 263.92 h-1.30 M710.70 263.92 h1.30 M403.60 261.01 h-1.30 M710.70 261.01 h1.30 M403.60 258.40 h-2.20 M710.70 258.40 h2.20 M403.60 241.24 h-1.30 M710.70 241.24 h1.30 M403.60 231.20 h-1.30 M710.70 231.20 h1.30 M403.60 224.08 h-1.30 M710.70 224.08 h1.30 M403.60 218.56 h-1.30 M710.70 218.56 h1.30 M403.60 214.05 h-1.30 M710.70 214.05 h1.30 M403.60 210.23 h-1.30 M710.70 210.23 h1.30 M403.60 206.92 h-1.30 M710.70 206.92 h1.30 M403.60 204.01 h-1.30 M710.70 204.01 h1.30 M403.60 201.40 h-2.20 M710.70 201.40 h2.20 M403.60 184.24 h-1.30 M710.70 184.24 h1.30 M403.60 174.20 h-1.30 M710.70 174.20 h1.30 M403.60 167.08 h-1.30 M710.70 167.08 h1.30 M403.60 161.56 h-1.30 M710.70 161.56 h1.30 M403.60 157.05 h-1.30 M710.70 157.05 h1.30 M403.60 153.23 h-1.30 M710.70 153.23 h1.30 M403.60 149.92 h-1.30 M710.70 149.92 h1.30 M403.60 147.01 h-1.30 M710.70 147.01 h1.30 M403.60 144.40 h-2.20 M710.70 144.40 h2.20 M403.60 127.24 h-1.30 M710.70 127.24 h1.30 M403.60 117.20 h-1.30 M710.70 117.20 h1.30 M403.60 110.08 h-1.30 M710.70 110.08 h1.30 M403.60 104.56 h-1.30 M710.70 104.56 h1.30 M403.60 100.05 h-1.30 M710.70 100.05 h1.30 M403.60 96.23 h-1.30 M710.70 96.23 h1.30 M403.60 92.92 h-1.30 M710.70 92.92 h1.30 M403.60 90.01 h-1.30 M710.70 90.01 h1.30 M403.60 87.40 h-2.20 M710.70 87.40 h2.20 M403.60 70.24 h-1.30 M710.70 70.24 h1.30 M403.60 60.20 h-1.30 M710.70 60.20 h1.30 M403.60 53.08 h-1.30 M710.70 53.08 h1.30 M403.60 47.56 h-1.30 M710.70 47.56 h1.30 M403.60 43.05 h-1.30 M710.70 43.05 h1.30 M403.60 39.23 h-1.30 M710.70 39.23 h1.30 M403.60 35.92 h-1.30 M710.70 35.92 h1.30 M403.60 33.01 h-1.30 M710.70 33.01 h1.30 M403.60 30.40 h-2.20 M710.70 30.40 h2.20 M403.60 13.24 h-1.30 M710.70 13.24 h1.30 M403.60 3.20 h-1.30 M710.70 3.20 h1.30" stroke="#5a5a5a" stroke-width="0.8" fill="none"/>
<g fill="#161616" stroke="#161616" stroke-width="0.3">
<text x="47.40" y="329.30" font-size="13.00" text-anchor="start" textLength="7.40" lengthAdjust="spacingAndGlyphs">7</text>
<text x="105.42" y="329.30" font-size="13.00" text-anchor="start" textLength="7.40" lengthAdjust="spacingAndGlyphs">8</text>
<text x="163.44" y="329.30" font-size="13.00" text-anchor="start" textLength="7.40" lengthAdjust="spacingAndGlyphs">9</text>
<text x="217.86" y="329.30" font-size="13.00" text-anchor="start" textLength="14.60" lengthAdjust="spacingAndGlyphs">10</text>
<text x="275.88" y="329.30" font-size="13.00" text-anchor="start" textLength="14.60" lengthAdjust="spacingAndGlyphs">11</text>
<text x="333.90" y="329.30" font-size="13.00" text-anchor="start" textLength="14.60" lengthAdjust="spacingAndGlyphs">12</text>
<text x="399.70" y="329.30" font-size="13.00" text-anchor="start" textLength="7.40" lengthAdjust="spacingAndGlyphs">7</text>
<text x="461.20" y="329.30" font-size="13.00" text-anchor="start" textLength="7.40" lengthAdjust="spacingAndGlyphs">8</text>
<text x="522.70" y="329.30" font-size="13.00" text-anchor="start" textLength="7.40" lengthAdjust="spacingAndGlyphs">9</text>
<text x="580.60" y="329.30" font-size="13.00" text-anchor="start" textLength="14.60" lengthAdjust="spacingAndGlyphs">10</text>
<text x="642.10" y="329.30" font-size="13.00" text-anchor="start" textLength="14.60" lengthAdjust="spacingAndGlyphs">11</text>
<text x="703.60" y="329.30" font-size="13.00" text-anchor="start" textLength="14.60" lengthAdjust="spacingAndGlyphs">12</text>
<text x="19.50" y="320.60" font-size="13.00" text-anchor="start" textLength="14.60" lengthAdjust="spacingAndGlyphs">10</text>
<text x="35.20" y="315.90" font-size="9.20" text-anchor="start" textLength="6.20" lengthAdjust="spacingAndGlyphs">−</text>
<text x="42.00" y="315.90" font-size="9.20" text-anchor="start" textLength="5.30" lengthAdjust="spacingAndGlyphs">4</text>
<text x="19.50" y="263.60" font-size="13.00" text-anchor="start" textLength="14.60" lengthAdjust="spacingAndGlyphs">10</text>
<text x="35.20" y="258.90" font-size="9.20" text-anchor="start" textLength="6.20" lengthAdjust="spacingAndGlyphs">−</text>
<text x="42.00" y="258.90" font-size="9.20" text-anchor="start" textLength="5.30" lengthAdjust="spacingAndGlyphs">3</text>
<text x="19.50" y="206.60" font-size="13.00" text-anchor="start" textLength="14.60" lengthAdjust="spacingAndGlyphs">10</text>
<text x="35.20" y="201.90" font-size="9.20" text-anchor="start" textLength="6.20" lengthAdjust="spacingAndGlyphs">−</text>
<text x="42.00" y="201.90" font-size="9.20" text-anchor="start" textLength="5.30" lengthAdjust="spacingAndGlyphs">2</text>
<text x="19.50" y="149.60" font-size="13.00" text-anchor="start" textLength="14.60" lengthAdjust="spacingAndGlyphs">10</text>
<text x="35.20" y="144.90" font-size="9.20" text-anchor="start" textLength="6.20" lengthAdjust="spacingAndGlyphs">−</text>
<text x="42.00" y="144.90" font-size="9.20" text-anchor="start" textLength="5.30" lengthAdjust="spacingAndGlyphs">1</text>
<text x="26.80" y="92.60" font-size="13.00" text-anchor="start" textLength="14.60" lengthAdjust="spacingAndGlyphs">10</text>
<text x="42.00" y="87.90" font-size="9.20" text-anchor="start" textLength="5.30" lengthAdjust="spacingAndGlyphs">0</text>
<text x="26.80" y="35.60" font-size="13.00" text-anchor="start" textLength="14.60" lengthAdjust="spacingAndGlyphs">10</text>
<text x="42.00" y="30.90" font-size="9.20" text-anchor="start" textLength="5.30" lengthAdjust="spacingAndGlyphs">1</text>
<text x="371.80" y="320.60" font-size="13.00" text-anchor="start" textLength="14.60" lengthAdjust="spacingAndGlyphs">10</text>
<text x="387.50" y="315.90" font-size="9.20" text-anchor="start" textLength="6.20" lengthAdjust="spacingAndGlyphs">−</text>
<text x="394.30" y="315.90" font-size="9.20" text-anchor="start" textLength="5.30" lengthAdjust="spacingAndGlyphs">4</text>
<text x="371.80" y="263.60" font-size="13.00" text-anchor="start" textLength="14.60" lengthAdjust="spacingAndGlyphs">10</text>
<text x="387.50" y="258.90" font-size="9.20" text-anchor="start" textLength="6.20" lengthAdjust="spacingAndGlyphs">−</text>
<text x="394.30" y="258.90" font-size="9.20" text-anchor="start" textLength="5.30" lengthAdjust="spacingAndGlyphs">3</text>
<text x="371.80" y="206.60" font-size="13.00" text-anchor="start" textLength="14.60" lengthAdjust="spacingAndGlyphs">10</text>
<text x="387.50" y="201.90" font-size="9.20" text-anchor="start" textLength="6.20" lengthAdjust="spacingAndGlyphs">−</text>
<text x="394.30" y="201.90" font-size="9.20" text-anchor="start" textLength="5.30" lengthAdjust="spacingAndGlyphs">2</text>
<text x="371.80" y="149.60" font-size="13.00" text-anchor="start" textLength="14.60" lengthAdjust="spacingAndGlyphs">10</text>
<text x="387.50" y="144.90" font-size="9.20" text-anchor="start" textLength="6.20" lengthAdjust="spacingAndGlyphs">−</text>
<text x="394.30" y="144.90" font-size="9.20" text-anchor="start" textLength="5.30" lengthAdjust="spacingAndGlyphs">1</text>
<text x="379.10" y="92.60" font-size="13.00" text-anchor="start" textLength="14.60" lengthAdjust="spacingAndGlyphs">10</text>
<text x="394.30" y="87.90" font-size="9.20" text-anchor="start" textLength="5.30" lengthAdjust="spacingAndGlyphs">0</text>
<text x="379.10" y="35.60" font-size="13.00" text-anchor="start" textLength="14.60" lengthAdjust="spacingAndGlyphs">10</text>
<text x="394.30" y="30.90" font-size="9.20" text-anchor="start" textLength="5.30" lengthAdjust="spacingAndGlyphs">1</text>
<text x="207.40" y="18.80" font-size="13.00" text-anchor="start" textLength="87.20" lengthAdjust="spacing">Local Relation</text>
<text x="562.60" y="18.60" font-size="13.00" text-anchor="start" textLength="94.60" lengthAdjust="spacing">High-z Relation</text>
</g>
<text x="80.0" y="19.6" font-size="10.4" fill="#1f1fff" stroke="#1f1fff" stroke-width="0.25" textLength="26.2" lengthAdjust="spacingAndGlyphs">z = 4</text>
<text x="80.0" y="33.8" font-size="10.4" fill="#ffa81a" stroke="#ffa81a" stroke-width="0.25" textLength="26.2" lengthAdjust="spacingAndGlyphs">z = 5</text>
<text x="80.0" y="47.9" font-size="10.4" fill="#ff1f1f" stroke="#ff1f1f" stroke-width="0.25" textLength="26.2" lengthAdjust="spacingAndGlyphs">z = 6</text>
<g fill="#161616" stroke="#161616" stroke-width="0.3">
<text x="155.95" y="345.20" font-size="14.80" text-anchor="start" textLength="21.60" lengthAdjust="spacingAndGlyphs">log</text>
<text x="179.95" y="345.20" font-size="14.80" text-anchor="start" textLength="14.20" lengthAdjust="spacingAndGlyphs" font-style="italic">M</text>
<circle cx="197.35" cy="344.10" r="1.35"/>
<text x="203.55" y="345.20" font-size="14.80" text-anchor="start">[</text>
<text x="207.95" y="345.20" font-size="14.80" text-anchor="start" textLength="14.60" lengthAdjust="spacingAndGlyphs" font-style="italic">M</text>
<circle cx="226.25" cy="345.00" r="2.9" fill="none" stroke="#1c1c1c" stroke-width="0.85"/><circle cx="226.25" cy="345.00" r="0.85"/>
<text x="231.15" y="345.20" font-size="14.80" text-anchor="start">]</text>
<text x="516.95" y="345.20" font-size="14.80" text-anchor="start" textLength="21.60" lengthAdjust="spacingAndGlyphs">log</text>
<text x="540.95" y="345.20" font-size="14.80" text-anchor="start" textLength="14.20" lengthAdjust="spacingAndGlyphs" font-style="italic">M</text>
<circle cx="558.35" cy="344.10" r="1.35"/>
<text x="564.55" y="345.20" font-size="14.80" text-anchor="start">[</text>
<text x="568.95" y="345.20" font-size="14.80" text-anchor="start" textLength="14.60" lengthAdjust="spacingAndGlyphs" font-style="italic">M</text>
<circle cx="587.25" cy="345.00" r="2.9" fill="none" stroke="#1c1c1c" stroke-width="0.85"/><circle cx="587.25" cy="345.00" r="0.85"/>
<text x="592.15" y="345.20" font-size="14.80" text-anchor="start">]</text>
<g transform="translate(12.9,313.9) rotate(-90)"><text x="-0.50" y="0.00" font-size="13.10" text-anchor="start" textLength="46.40" lengthAdjust="spacingAndGlyphs">Surface</text>
<text x="50.20" y="0.00" font-size="13.10" text-anchor="start" textLength="45.00" lengthAdjust="spacingAndGlyphs">density</text>
<text x="99.10" y="0.00" font-size="13.10" text-anchor="start" textLength="25.50" lengthAdjust="spacingAndGlyphs">with</text>
<text x="130.00" y="0.00" font-size="13.10" text-anchor="start" textLength="18.70" lengthAdjust="spacingAndGlyphs">log</text>
<text x="150.50" y="0.00" font-size="13.10" text-anchor="start" textLength="12.80" lengthAdjust="spacingAndGlyphs" font-style="italic">M</text>
<circle cx="165.3" cy="-0.6" r="1.3"/>
<text x="169.60" y="0.00" font-size="13.10" text-anchor="start" textLength="8.80" lengthAdjust="spacingAndGlyphs">≤</text>
<text x="182.00" y="0.00" font-size="13.10" text-anchor="start" textLength="18.40" lengthAdjust="spacingAndGlyphs">6.5</text>
<text x="205.60" y="0.00" font-size="13.10" text-anchor="start" textLength="46.40" lengthAdjust="spacingAndGlyphs">[arcmin</text>
<text x="253.20" y="-4.80" font-size="9.20" text-anchor="start" textLength="6.20" lengthAdjust="spacingAndGlyphs">−</text>
<text x="260.10" y="-4.80" font-size="9.20" text-anchor="start" textLength="5.00" lengthAdjust="spacingAndGlyphs">2</text>
<text x="269.90" y="0.00" font-size="13.10" text-anchor="start" textLength="22.50" lengthAdjust="spacingAndGlyphs">dex</text>
<text x="293.00" y="-4.80" font-size="9.20" text-anchor="start" textLength="6.20" lengthAdjust="spacingAndGlyphs">−</text>
<text x="300.10" y="-4.80" font-size="9.20" text-anchor="start" textLength="4.80" lengthAdjust="spacingAndGlyphs">1</text>
<text x="306.30" y="0.00" font-size="13.10" text-anchor="start" textLength="3.70" lengthAdjust="spacingAndGlyphs">]</text></g>
</g>
</svg>
</body></html>
